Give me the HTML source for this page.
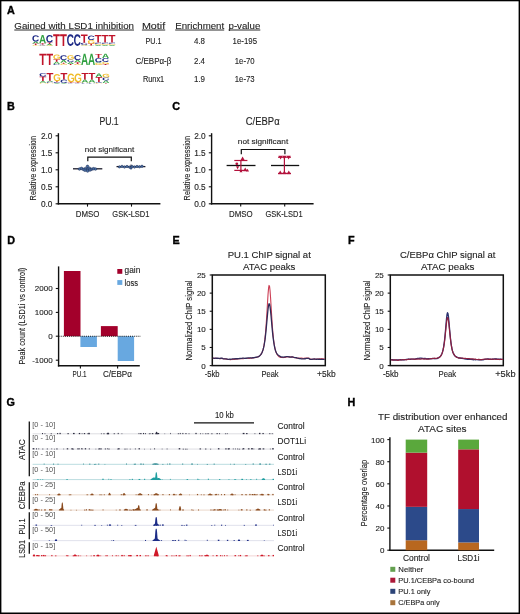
<!DOCTYPE html><html><head><meta charset="utf-8"><style>html,body{margin:0;padding:0;background:#fff;}svg{display:block;filter:blur(0.35px);}</style></head><body><svg width="520" height="614" viewBox="0 0 520 614" style="font-family:'Liberation Sans',sans-serif"><defs><path id="gA" d="M1133 0 1008 360H471L346 0H51L565 1409H913L1425 0ZM739 1192 733 1170Q723 1134 709.0 1088.0Q695 1042 537 582H942L803 987L760 1123Z"/><path id="gC" d="M795 212Q1062 212 1166 480L1423 383Q1340 179 1179.5 79.5Q1019 -20 795 -20Q455 -20 269.5 172.5Q84 365 84 711Q84 1058 263.0 1244.0Q442 1430 782 1430Q1030 1430 1186.0 1330.5Q1342 1231 1405 1038L1145 967Q1112 1073 1015.5 1135.5Q919 1198 788 1198Q588 1198 484.5 1074.0Q381 950 381 711Q381 468 487.5 340.0Q594 212 795 212Z"/><path id="gG" d="M806 211Q921 211 1029.0 244.5Q1137 278 1196 330V525H852V743H1466V225Q1354 110 1174.5 45.0Q995 -20 798 -20Q454 -20 269.0 170.5Q84 361 84 711Q84 1059 270.0 1244.5Q456 1430 805 1430Q1301 1430 1436 1063L1164 981Q1120 1088 1026.0 1143.0Q932 1198 805 1198Q597 1198 489.0 1072.0Q381 946 381 711Q381 472 492.5 341.5Q604 211 806 211Z"/><path id="gT" d="M773 1181V0H478V1181H23V1409H1229V1181Z"/></defs><rect x="0" y="0" width="520" height="614" fill="#000"/>
<rect x="1.4" y="1.3" width="517.2" height="611.2" fill="#fff"/>
<text x="7" y="14.3" font-size="10.8" fill="#000" font-weight="bold" stroke="#000" stroke-width="0.35">A</text>
<text x="14.3" y="28.8" font-size="9.87" fill="#1e1e1e" textLength="119.7" lengthAdjust="spacingAndGlyphs" stroke="#1e1e1e" stroke-width="0.12">Gained with LSD1 inhibition</text>
<line x1="14.3" y1="30" x2="134" y2="30" stroke="#2a2a2a" stroke-width="1"/>
<text x="141.9" y="28.8" font-size="9.87" fill="#1e1e1e" textLength="23.3" lengthAdjust="spacingAndGlyphs" stroke="#1e1e1e" stroke-width="0.12">Motif</text>
<line x1="141.9" y1="30" x2="165.2" y2="30" stroke="#2a2a2a" stroke-width="1"/>
<text x="175.2" y="28.8" font-size="9.87" fill="#1e1e1e" textLength="49" lengthAdjust="spacingAndGlyphs" stroke="#1e1e1e" stroke-width="0.12">Enrichment</text>
<line x1="175.2" y1="30" x2="224.2" y2="30" stroke="#2a2a2a" stroke-width="1"/>
<text x="228.5" y="28.8" font-size="9.87" fill="#1e1e1e" textLength="31.8" lengthAdjust="spacingAndGlyphs" stroke="#1e1e1e" stroke-width="0.12">p-value</text>
<line x1="228.5" y1="30" x2="260.3" y2="30" stroke="#2a2a2a" stroke-width="1"/>
<text x="145.4" y="43.8" font-size="8.61" fill="#1e1e1e" textLength="16.1" lengthAdjust="spacingAndGlyphs" stroke="#1e1e1e" stroke-width="0.12">PU.1</text>
<text x="194" y="43.8" font-size="8.61" fill="#1e1e1e" textLength="11" lengthAdjust="spacingAndGlyphs" stroke="#1e1e1e" stroke-width="0.12">4.8</text>
<text x="232.6" y="43.8" font-size="8.61" fill="#1e1e1e" textLength="24.4" lengthAdjust="spacingAndGlyphs" stroke="#1e1e1e" stroke-width="0.12">1e-195</text>
<text x="135.6" y="63.8" font-size="8.61" fill="#1e1e1e" textLength="35.7" lengthAdjust="spacingAndGlyphs" stroke="#1e1e1e" stroke-width="0.12">C/EBP&#945;-&#946;</text>
<text x="194" y="63.8" font-size="8.61" fill="#1e1e1e" textLength="11" lengthAdjust="spacingAndGlyphs" stroke="#1e1e1e" stroke-width="0.12">2.4</text>
<text x="234.8" y="63.8" font-size="8.61" fill="#1e1e1e" textLength="19.8" lengthAdjust="spacingAndGlyphs" stroke="#1e1e1e" stroke-width="0.12">1e-70</text>
<text x="143" y="81.8" font-size="8.61" fill="#1e1e1e" textLength="21.2" lengthAdjust="spacingAndGlyphs" stroke="#1e1e1e" stroke-width="0.12">Runx1</text>
<text x="194" y="81.8" font-size="8.61" fill="#1e1e1e" textLength="11" lengthAdjust="spacingAndGlyphs" stroke="#1e1e1e" stroke-width="0.12">1.9</text>
<text x="234.8" y="81.8" font-size="8.61" fill="#1e1e1e" textLength="19.8" lengthAdjust="spacingAndGlyphs" stroke="#1e1e1e" stroke-width="0.12">1e-73</text>
<use href="#gG" fill="#f0bc2a" stroke="#f0bc2a" stroke-width="0.55" vector-effect="non-scaling-stroke" transform="translate(32.35 45.9) scale(0.004805 -0.000552) translate(-84 20)"/>
<use href="#gT" fill="#c0142a" stroke="#c0142a" stroke-width="0.55" vector-effect="non-scaling-stroke" transform="translate(32.35 45.1) scale(0.005506 -0.001065) translate(-23 0)"/>
<use href="#gA" fill="#30a040" stroke="#30a040" stroke-width="0.55" vector-effect="non-scaling-stroke" transform="translate(32.35 43.6) scale(0.004833 -0.001419) translate(-51 0)"/>
<use href="#gC" fill="#1e2a86" stroke="#1e2a86" stroke-width="0.55" vector-effect="non-scaling-stroke" transform="translate(32.35 41.6) scale(0.004959 -0.004345) translate(-84 20)"/>
<use href="#gG" fill="#f0bc2a" stroke="#f0bc2a" stroke-width="0.55" vector-effect="non-scaling-stroke" transform="translate(39.29 45.9) scale(0.004805 -0.000345) translate(-84 20)"/>
<use href="#gC" fill="#1e2a86" stroke="#1e2a86" stroke-width="0.55" vector-effect="non-scaling-stroke" transform="translate(39.29 45.4) scale(0.004959 -0.000552) translate(-84 20)"/>
<use href="#gT" fill="#c0142a" stroke="#c0142a" stroke-width="0.55" vector-effect="non-scaling-stroke" transform="translate(39.29 44.6) scale(0.005506 -0.000923) translate(-23 0)"/>
<use href="#gA" fill="#30a040" stroke="#30a040" stroke-width="0.55" vector-effect="non-scaling-stroke" transform="translate(39.29 43.3) scale(0.004833 -0.005891) translate(-51 0)"/>
<use href="#gG" fill="#f0bc2a" stroke="#f0bc2a" stroke-width="0.55" vector-effect="non-scaling-stroke" transform="translate(46.23 45.9) scale(0.004805 -0.000414) translate(-84 20)"/>
<use href="#gA" fill="#30a040" stroke="#30a040" stroke-width="0.55" vector-effect="non-scaling-stroke" transform="translate(46.23 45.3) scale(0.004833 -0.000852) translate(-51 0)"/>
<use href="#gT" fill="#c0142a" stroke="#c0142a" stroke-width="0.55" vector-effect="non-scaling-stroke" transform="translate(46.23 44.1) scale(0.005506 -0.001136) translate(-23 0)"/>
<use href="#gC" fill="#1e2a86" stroke="#1e2a86" stroke-width="0.55" vector-effect="non-scaling-stroke" transform="translate(46.23 42.5) scale(0.004959 -0.005103) translate(-84 20)"/>
<use href="#gT" fill="#c0142a" stroke="#c0142a" stroke-width="0.55" vector-effect="non-scaling-stroke" transform="translate(53.17 45.9) scale(0.005506 -0.008233) translate(-23 0)"/>
<use href="#gT" fill="#c0142a" stroke="#c0142a" stroke-width="0.55" vector-effect="non-scaling-stroke" transform="translate(60.11 45.9) scale(0.005506 -0.008233) translate(-23 0)"/>
<use href="#gC" fill="#1e2a86" stroke="#1e2a86" stroke-width="0.55" vector-effect="non-scaling-stroke" transform="translate(67.05 45.9) scale(0.004959 -0.008000) translate(-84 20)"/>
<use href="#gC" fill="#1e2a86" stroke="#1e2a86" stroke-width="0.55" vector-effect="non-scaling-stroke" transform="translate(73.99 45.9) scale(0.004959 -0.008000) translate(-84 20)"/>
<use href="#gA" fill="#30a040" stroke="#30a040" stroke-width="0.55" vector-effect="non-scaling-stroke" transform="translate(80.93 45.9) scale(0.004833 -0.000355) translate(-51 0)"/>
<use href="#gG" fill="#f0bc2a" stroke="#f0bc2a" stroke-width="0.55" vector-effect="non-scaling-stroke" transform="translate(80.93 45.4) scale(0.004805 -0.000414) translate(-84 20)"/>
<use href="#gC" fill="#1e2a86" stroke="#1e2a86" stroke-width="0.55" vector-effect="non-scaling-stroke" transform="translate(80.93 44.8) scale(0.004959 -0.001379) translate(-84 20)"/>
<use href="#gT" fill="#c0142a" stroke="#c0142a" stroke-width="0.55" vector-effect="non-scaling-stroke" transform="translate(80.93 42.8) scale(0.005506 -0.005820) translate(-23 0)"/>
<use href="#gA" fill="#30a040" stroke="#30a040" stroke-width="0.55" vector-effect="non-scaling-stroke" transform="translate(87.87 45.9) scale(0.004833 -0.000355) translate(-51 0)"/>
<use href="#gT" fill="#c0142a" stroke="#c0142a" stroke-width="0.55" vector-effect="non-scaling-stroke" transform="translate(87.87 45.4) scale(0.005506 -0.001278) translate(-23 0)"/>
<use href="#gG" fill="#f0bc2a" stroke="#f0bc2a" stroke-width="0.55" vector-effect="non-scaling-stroke" transform="translate(87.87 43.6) scale(0.004805 -0.002483) translate(-84 20)"/>
<use href="#gC" fill="#1e2a86" stroke="#1e2a86" stroke-width="0.55" vector-effect="non-scaling-stroke" transform="translate(87.87 40) scale(0.004959 -0.003034) translate(-84 20)"/>
<use href="#gA" fill="#30a040" stroke="#30a040" stroke-width="0.55" vector-effect="non-scaling-stroke" transform="translate(94.81 45.9) scale(0.004833 -0.000710) translate(-51 0)"/>
<use href="#gG" fill="#f0bc2a" stroke="#f0bc2a" stroke-width="0.55" vector-effect="non-scaling-stroke" transform="translate(94.81 44.9) scale(0.004805 -0.000690) translate(-84 20)"/>
<use href="#gC" fill="#1e2a86" stroke="#1e2a86" stroke-width="0.55" vector-effect="non-scaling-stroke" transform="translate(94.81 43.9) scale(0.004959 -0.000966) translate(-84 20)"/>
<use href="#gT" fill="#c0142a" stroke="#c0142a" stroke-width="0.55" vector-effect="non-scaling-stroke" transform="translate(94.81 42.5) scale(0.005506 -0.005394) translate(-23 0)"/>
<use href="#gA" fill="#30a040" stroke="#30a040" stroke-width="0.55" vector-effect="non-scaling-stroke" transform="translate(101.75 45.9) scale(0.004833 -0.000710) translate(-51 0)"/>
<use href="#gG" fill="#f0bc2a" stroke="#f0bc2a" stroke-width="0.55" vector-effect="non-scaling-stroke" transform="translate(101.75 44.9) scale(0.004805 -0.000690) translate(-84 20)"/>
<use href="#gC" fill="#1e2a86" stroke="#1e2a86" stroke-width="0.55" vector-effect="non-scaling-stroke" transform="translate(101.75 43.9) scale(0.004959 -0.000966) translate(-84 20)"/>
<use href="#gT" fill="#c0142a" stroke="#c0142a" stroke-width="0.55" vector-effect="non-scaling-stroke" transform="translate(101.75 42.5) scale(0.005506 -0.005394) translate(-23 0)"/>
<use href="#gA" fill="#30a040" stroke="#30a040" stroke-width="0.55" vector-effect="non-scaling-stroke" transform="translate(108.69 45.9) scale(0.004833 -0.000710) translate(-51 0)"/>
<use href="#gG" fill="#f0bc2a" stroke="#f0bc2a" stroke-width="0.55" vector-effect="non-scaling-stroke" transform="translate(108.69 44.9) scale(0.004805 -0.000690) translate(-84 20)"/>
<use href="#gC" fill="#1e2a86" stroke="#1e2a86" stroke-width="0.55" vector-effect="non-scaling-stroke" transform="translate(108.69 43.9) scale(0.004959 -0.000966) translate(-84 20)"/>
<use href="#gT" fill="#c0142a" stroke="#c0142a" stroke-width="0.55" vector-effect="non-scaling-stroke" transform="translate(108.69 42.5) scale(0.005506 -0.005394) translate(-23 0)"/>
<use href="#gT" fill="#c0142a" stroke="#c0142a" stroke-width="0.55" vector-effect="non-scaling-stroke" transform="translate(39.35 64.9) scale(0.005539 -0.007878) translate(-23 0)"/>
<use href="#gT" fill="#c0142a" stroke="#c0142a" stroke-width="0.55" vector-effect="non-scaling-stroke" transform="translate(46.33 64.9) scale(0.005539 -0.007878) translate(-23 0)"/>
<use href="#gC" fill="#1e2a86" stroke="#1e2a86" stroke-width="0.55" vector-effect="non-scaling-stroke" transform="translate(53.31 64.9) scale(0.004989 -0.000690) translate(-84 20)"/>
<use href="#gA" fill="#30a040" stroke="#30a040" stroke-width="0.55" vector-effect="non-scaling-stroke" transform="translate(53.31 63.9) scale(0.004862 -0.001561) translate(-51 0)"/>
<use href="#gT" fill="#c0142a" stroke="#c0142a" stroke-width="0.55" vector-effect="non-scaling-stroke" transform="translate(53.31 61.7) scale(0.005539 -0.001703) translate(-23 0)"/>
<use href="#gG" fill="#f0bc2a" stroke="#f0bc2a" stroke-width="0.55" vector-effect="non-scaling-stroke" transform="translate(53.31 59.3) scale(0.004834 -0.003241) translate(-84 20)"/>
<use href="#gG" fill="#f0bc2a" stroke="#f0bc2a" stroke-width="0.55" vector-effect="non-scaling-stroke" transform="translate(60.29 64.9) scale(0.004834 -0.000828) translate(-84 20)"/>
<use href="#gT" fill="#c0142a" stroke="#c0142a" stroke-width="0.55" vector-effect="non-scaling-stroke" transform="translate(60.29 63.7) scale(0.005539 -0.000710) translate(-23 0)"/>
<use href="#gA" fill="#30a040" stroke="#30a040" stroke-width="0.55" vector-effect="non-scaling-stroke" transform="translate(60.29 62.7) scale(0.004862 -0.001845) translate(-51 0)"/>
<use href="#gC" fill="#1e2a86" stroke="#1e2a86" stroke-width="0.55" vector-effect="non-scaling-stroke" transform="translate(60.29 60.1) scale(0.004989 -0.003379) translate(-84 20)"/>
<use href="#gT" fill="#c0142a" stroke="#c0142a" stroke-width="0.55" vector-effect="non-scaling-stroke" transform="translate(67.27 64.9) scale(0.005539 -0.000710) translate(-23 0)"/>
<use href="#gA" fill="#30a040" stroke="#30a040" stroke-width="0.55" vector-effect="non-scaling-stroke" transform="translate(67.27 63.9) scale(0.004862 -0.001419) translate(-51 0)"/>
<use href="#gC" fill="#1e2a86" stroke="#1e2a86" stroke-width="0.55" vector-effect="non-scaling-stroke" transform="translate(67.27 61.9) scale(0.004989 -0.001655) translate(-84 20)"/>
<use href="#gG" fill="#f0bc2a" stroke="#f0bc2a" stroke-width="0.55" vector-effect="non-scaling-stroke" transform="translate(67.27 59.5) scale(0.004834 -0.002897) translate(-84 20)"/>
<use href="#gG" fill="#f0bc2a" stroke="#f0bc2a" stroke-width="0.55" vector-effect="non-scaling-stroke" transform="translate(74.25 64.9) scale(0.004834 -0.000690) translate(-84 20)"/>
<use href="#gT" fill="#c0142a" stroke="#c0142a" stroke-width="0.55" vector-effect="non-scaling-stroke" transform="translate(74.25 63.9) scale(0.005539 -0.001136) translate(-23 0)"/>
<use href="#gA" fill="#30a040" stroke="#30a040" stroke-width="0.55" vector-effect="non-scaling-stroke" transform="translate(74.25 62.3) scale(0.004862 -0.001561) translate(-51 0)"/>
<use href="#gC" fill="#1e2a86" stroke="#1e2a86" stroke-width="0.55" vector-effect="non-scaling-stroke" transform="translate(74.25 60.1) scale(0.004989 -0.003448) translate(-84 20)"/>
<use href="#gA" fill="#30a040" stroke="#30a040" stroke-width="0.55" vector-effect="non-scaling-stroke" transform="translate(81.23 64.9) scale(0.004862 -0.007949) translate(-51 0)"/>
<use href="#gA" fill="#30a040" stroke="#30a040" stroke-width="0.55" vector-effect="non-scaling-stroke" transform="translate(88.21 64.9) scale(0.004862 -0.007949) translate(-51 0)"/>
<use href="#gG" fill="#f0bc2a" stroke="#f0bc2a" stroke-width="0.55" vector-effect="non-scaling-stroke" transform="translate(95.19 64.9) scale(0.004834 -0.001379) translate(-84 20)"/>
<use href="#gA" fill="#30a040" stroke="#30a040" stroke-width="0.55" vector-effect="non-scaling-stroke" transform="translate(95.19 62.9) scale(0.004862 -0.000426) translate(-51 0)"/>
<use href="#gC" fill="#1e2a86" stroke="#1e2a86" stroke-width="0.55" vector-effect="non-scaling-stroke" transform="translate(95.19 62.3) scale(0.004989 -0.003034) translate(-84 20)"/>
<use href="#gT" fill="#c0142a" stroke="#c0142a" stroke-width="0.55" vector-effect="non-scaling-stroke" transform="translate(95.19 57.9) scale(0.005539 -0.002839) translate(-23 0)"/>
<use href="#gT" fill="#c0142a" stroke="#c0142a" stroke-width="0.55" vector-effect="non-scaling-stroke" transform="translate(102.17 64.9) scale(0.005539 -0.000568) translate(-23 0)"/>
<use href="#gG" fill="#f0bc2a" stroke="#f0bc2a" stroke-width="0.55" vector-effect="non-scaling-stroke" transform="translate(102.17 64.1) scale(0.004834 -0.001517) translate(-84 20)"/>
<use href="#gC" fill="#1e2a86" stroke="#1e2a86" stroke-width="0.55" vector-effect="non-scaling-stroke" transform="translate(102.17 61.9) scale(0.004989 -0.002759) translate(-84 20)"/>
<use href="#gA" fill="#30a040" stroke="#30a040" stroke-width="0.55" vector-effect="non-scaling-stroke" transform="translate(102.17 57.9) scale(0.004862 -0.002981) translate(-51 0)"/>
<use href="#gG" fill="#f0bc2a" stroke="#f0bc2a" stroke-width="0.55" vector-effect="non-scaling-stroke" transform="translate(39.55 83.6) scale(0.004848 -0.000552) translate(-84 20)"/>
<use href="#gA" fill="#30a040" stroke="#30a040" stroke-width="0.55" vector-effect="non-scaling-stroke" transform="translate(39.55 82.8) scale(0.004876 -0.001278) translate(-51 0)"/>
<use href="#gT" fill="#c0142a" stroke="#c0142a" stroke-width="0.55" vector-effect="non-scaling-stroke" transform="translate(39.55 81) scale(0.005556 -0.003265) translate(-23 0)"/>
<use href="#gC" fill="#1e2a86" stroke="#1e2a86" stroke-width="0.55" vector-effect="non-scaling-stroke" transform="translate(39.55 76.4) scale(0.005004 -0.002207) translate(-84 20)"/>
<use href="#gG" fill="#f0bc2a" stroke="#f0bc2a" stroke-width="0.55" vector-effect="non-scaling-stroke" transform="translate(46.55 83.6) scale(0.004848 -0.000552) translate(-84 20)"/>
<use href="#gC" fill="#1e2a86" stroke="#1e2a86" stroke-width="0.55" vector-effect="non-scaling-stroke" transform="translate(46.55 82.8) scale(0.005004 -0.000690) translate(-84 20)"/>
<use href="#gA" fill="#30a040" stroke="#30a040" stroke-width="0.55" vector-effect="non-scaling-stroke" transform="translate(46.55 81.8) scale(0.004876 -0.000710) translate(-51 0)"/>
<use href="#gT" fill="#c0142a" stroke="#c0142a" stroke-width="0.55" vector-effect="non-scaling-stroke" transform="translate(46.55 80.8) scale(0.005556 -0.005465) translate(-23 0)"/>
<use href="#gA" fill="#30a040" stroke="#30a040" stroke-width="0.55" vector-effect="non-scaling-stroke" transform="translate(53.55 83.6) scale(0.004876 -0.000426) translate(-51 0)"/>
<use href="#gC" fill="#1e2a86" stroke="#1e2a86" stroke-width="0.55" vector-effect="non-scaling-stroke" transform="translate(53.55 83) scale(0.005004 -0.000552) translate(-84 20)"/>
<use href="#gT" fill="#c0142a" stroke="#c0142a" stroke-width="0.55" vector-effect="non-scaling-stroke" transform="translate(53.55 82.2) scale(0.005556 -0.000710) translate(-23 0)"/>
<use href="#gG" fill="#f0bc2a" stroke="#f0bc2a" stroke-width="0.55" vector-effect="non-scaling-stroke" transform="translate(53.55 81.2) scale(0.004848 -0.004966) translate(-84 20)"/>
<use href="#gA" fill="#30a040" stroke="#30a040" stroke-width="0.55" vector-effect="non-scaling-stroke" transform="translate(60.55 83.6) scale(0.004876 -0.000426) translate(-51 0)"/>
<use href="#gC" fill="#1e2a86" stroke="#1e2a86" stroke-width="0.55" vector-effect="non-scaling-stroke" transform="translate(60.55 83) scale(0.005004 -0.002345) translate(-84 20)"/>
<use href="#gT" fill="#c0142a" stroke="#c0142a" stroke-width="0.55" vector-effect="non-scaling-stroke" transform="translate(60.55 79.6) scale(0.005556 -0.004613) translate(-23 0)"/>
<use href="#gC" fill="#1e2a86" stroke="#1e2a86" stroke-width="0.55" vector-effect="non-scaling-stroke" transform="translate(67.55 83.6) scale(0.005004 -0.000345) translate(-84 20)"/>
<use href="#gT" fill="#c0142a" stroke="#c0142a" stroke-width="0.55" vector-effect="non-scaling-stroke" transform="translate(67.55 83.1) scale(0.005556 -0.000568) translate(-23 0)"/>
<use href="#gG" fill="#f0bc2a" stroke="#f0bc2a" stroke-width="0.55" vector-effect="non-scaling-stroke" transform="translate(67.55 82.3) scale(0.004848 -0.006069) translate(-84 20)"/>
<use href="#gC" fill="#1e2a86" stroke="#1e2a86" stroke-width="0.55" vector-effect="non-scaling-stroke" transform="translate(74.55 83.6) scale(0.005004 -0.000345) translate(-84 20)"/>
<use href="#gT" fill="#c0142a" stroke="#c0142a" stroke-width="0.55" vector-effect="non-scaling-stroke" transform="translate(74.55 83.1) scale(0.005556 -0.000568) translate(-23 0)"/>
<use href="#gG" fill="#f0bc2a" stroke="#f0bc2a" stroke-width="0.55" vector-effect="non-scaling-stroke" transform="translate(74.55 82.3) scale(0.004848 -0.006069) translate(-84 20)"/>
<use href="#gC" fill="#1e2a86" stroke="#1e2a86" stroke-width="0.55" vector-effect="non-scaling-stroke" transform="translate(81.55 83.6) scale(0.005004 -0.000414) translate(-84 20)"/>
<use href="#gG" fill="#f0bc2a" stroke="#f0bc2a" stroke-width="0.55" vector-effect="non-scaling-stroke" transform="translate(81.55 83) scale(0.004848 -0.000345) translate(-84 20)"/>
<use href="#gA" fill="#30a040" stroke="#30a040" stroke-width="0.55" vector-effect="non-scaling-stroke" transform="translate(81.55 82.5) scale(0.004876 -0.002129) translate(-51 0)"/>
<use href="#gT" fill="#c0142a" stroke="#c0142a" stroke-width="0.55" vector-effect="non-scaling-stroke" transform="translate(81.55 79.5) scale(0.005556 -0.004613) translate(-23 0)"/>
<use href="#gC" fill="#1e2a86" stroke="#1e2a86" stroke-width="0.55" vector-effect="non-scaling-stroke" transform="translate(88.55 83.6) scale(0.005004 -0.000414) translate(-84 20)"/>
<use href="#gG" fill="#f0bc2a" stroke="#f0bc2a" stroke-width="0.55" vector-effect="non-scaling-stroke" transform="translate(88.55 83) scale(0.004848 -0.000345) translate(-84 20)"/>
<use href="#gA" fill="#30a040" stroke="#30a040" stroke-width="0.55" vector-effect="non-scaling-stroke" transform="translate(88.55 82.5) scale(0.004876 -0.002129) translate(-51 0)"/>
<use href="#gT" fill="#c0142a" stroke="#c0142a" stroke-width="0.55" vector-effect="non-scaling-stroke" transform="translate(88.55 79.5) scale(0.005556 -0.004613) translate(-23 0)"/>
<use href="#gG" fill="#f0bc2a" stroke="#f0bc2a" stroke-width="0.55" vector-effect="non-scaling-stroke" transform="translate(95.55 83.6) scale(0.004848 -0.000414) translate(-84 20)"/>
<use href="#gC" fill="#1e2a86" stroke="#1e2a86" stroke-width="0.55" vector-effect="non-scaling-stroke" transform="translate(95.55 83) scale(0.005004 -0.000690) translate(-84 20)"/>
<use href="#gT" fill="#c0142a" stroke="#c0142a" stroke-width="0.55" vector-effect="non-scaling-stroke" transform="translate(95.55 82) scale(0.005556 -0.003549) translate(-23 0)"/>
<use href="#gA" fill="#30a040" stroke="#30a040" stroke-width="0.55" vector-effect="non-scaling-stroke" transform="translate(95.55 77) scale(0.004876 -0.002555) translate(-51 0)"/>
<use href="#gT" fill="#c0142a" stroke="#c0142a" stroke-width="0.55" vector-effect="non-scaling-stroke" transform="translate(102.55 83.6) scale(0.005556 -0.000426) translate(-23 0)"/>
<use href="#gA" fill="#30a040" stroke="#30a040" stroke-width="0.55" vector-effect="non-scaling-stroke" transform="translate(102.55 83) scale(0.004876 -0.001845) translate(-51 0)"/>
<use href="#gC" fill="#1e2a86" stroke="#1e2a86" stroke-width="0.55" vector-effect="non-scaling-stroke" transform="translate(102.55 80.4) scale(0.005004 -0.002069) translate(-84 20)"/>
<use href="#gG" fill="#f0bc2a" stroke="#f0bc2a" stroke-width="0.55" vector-effect="non-scaling-stroke" transform="translate(102.55 77.4) scale(0.004848 -0.002483) translate(-84 20)"/>
<text x="6.9" y="109.9" font-size="10.8" fill="#000" font-weight="bold" stroke="#000" stroke-width="0.35">B</text>
<line x1="58.4" y1="133.2" x2="58.4" y2="204.5" stroke="#111" stroke-width="1.4"/>
<line x1="55.6" y1="203.8" x2="58.4" y2="203.8" stroke="#111" stroke-width="1.1"/>
<text x="52.5" y="206.7" font-size="8.3" fill="#1e1e1e" text-anchor="end" stroke="#1e1e1e" stroke-width="0.12">0.0</text>
<line x1="55.6" y1="186.8" x2="58.4" y2="186.8" stroke="#111" stroke-width="1.1"/>
<text x="52.5" y="189.7" font-size="8.3" fill="#1e1e1e" text-anchor="end" stroke="#1e1e1e" stroke-width="0.12">0.5</text>
<line x1="55.6" y1="169.8" x2="58.4" y2="169.8" stroke="#111" stroke-width="1.1"/>
<text x="52.5" y="172.7" font-size="8.3" fill="#1e1e1e" text-anchor="end" stroke="#1e1e1e" stroke-width="0.12">1.0</text>
<line x1="55.6" y1="152.8" x2="58.4" y2="152.8" stroke="#111" stroke-width="1.1"/>
<text x="52.5" y="155.7" font-size="8.3" fill="#1e1e1e" text-anchor="end" stroke="#1e1e1e" stroke-width="0.12">1.5</text>
<line x1="55.6" y1="135.8" x2="58.4" y2="135.8" stroke="#111" stroke-width="1.1"/>
<text x="52.5" y="138.7" font-size="8.3" fill="#1e1e1e" text-anchor="end" stroke="#1e1e1e" stroke-width="0.12">2.0</text>
<line x1="57.7" y1="203.8" x2="160.4" y2="203.8" stroke="#111" stroke-width="1.5"/>
<line x1="87.5" y1="203.8" x2="87.5" y2="206.6" stroke="#111" stroke-width="1.1"/>
<line x1="131.5" y1="203.8" x2="131.5" y2="206.6" stroke="#111" stroke-width="1.1"/>
<text x="75.8" y="217.2" font-size="8.4" fill="#1e1e1e" textLength="23.6" lengthAdjust="spacingAndGlyphs" stroke="#1e1e1e" stroke-width="0.12">DMSO</text>
<text x="112.3" y="217.2" font-size="8.4" fill="#1e1e1e" textLength="37.1" lengthAdjust="spacingAndGlyphs" stroke="#1e1e1e" stroke-width="0.12">GSK-LSD1</text>
<text x="36.4" y="200.4" font-size="8.72" fill="#1e1e1e" textLength="64.4" lengthAdjust="spacingAndGlyphs" transform="rotate(-90 36.4 200.4)" stroke="#1e1e1e" stroke-width="0.12">Relative expression</text>
<text x="99.4" y="125.2" font-size="10.29" fill="#1e1e1e" textLength="19.3" lengthAdjust="spacingAndGlyphs" stroke="#1e1e1e" stroke-width="0.12">PU.1</text>
<text x="84.8" y="151.5" font-size="7.98" fill="#1e1e1e" textLength="49.4" lengthAdjust="spacingAndGlyphs" stroke="#1e1e1e" stroke-width="0.12">not significant</text>
<path d="M87.8 161.3 V157.1 H131.3 V161.3" fill="none" stroke="#111" stroke-width="1.2"/>
<line x1="73" y1="168.8" x2="102.3" y2="168.8" stroke="#1a1a2a" stroke-width="1.3"/>
<line x1="116.5" y1="166.6" x2="145.4" y2="166.6" stroke="#1a1a2a" stroke-width="1.3"/>
<line x1="87.5" y1="165" x2="87.5" y2="172" stroke="#1a1a2a" stroke-width="1"/>
<line x1="131" y1="164.6" x2="131" y2="168.8" stroke="#1a1a2a" stroke-width="1"/>
<circle cx="79.5" cy="169" r="1.35" fill="#4a6fa5" stroke="#1f2f55" stroke-width="0.5"/>
<circle cx="81.5" cy="168.4" r="1.35" fill="#4a6fa5" stroke="#1f2f55" stroke-width="0.5"/>
<circle cx="83.5" cy="169.4" r="1.35" fill="#4a6fa5" stroke="#1f2f55" stroke-width="0.5"/>
<circle cx="85.5" cy="168.6" r="1.35" fill="#4a6fa5" stroke="#1f2f55" stroke-width="0.5"/>
<circle cx="87.5" cy="169.2" r="1.35" fill="#4a6fa5" stroke="#1f2f55" stroke-width="0.5"/>
<circle cx="89.5" cy="168.3" r="1.35" fill="#4a6fa5" stroke="#1f2f55" stroke-width="0.5"/>
<circle cx="91.5" cy="169.3" r="1.35" fill="#4a6fa5" stroke="#1f2f55" stroke-width="0.5"/>
<circle cx="93.5" cy="168.7" r="1.35" fill="#4a6fa5" stroke="#1f2f55" stroke-width="0.5"/>
<circle cx="95.5" cy="169" r="1.35" fill="#4a6fa5" stroke="#1f2f55" stroke-width="0.5"/>
<circle cx="87.5" cy="166.4" r="1.35" fill="#4a6fa5" stroke="#1f2f55" stroke-width="0.5"/>
<circle cx="87.6" cy="171" r="1.35" fill="#4a6fa5" stroke="#1f2f55" stroke-width="0.5"/>
<circle cx="85" cy="170.2" r="1.35" fill="#4a6fa5" stroke="#1f2f55" stroke-width="0.5"/>
<circle cx="90" cy="170" r="1.35" fill="#4a6fa5" stroke="#1f2f55" stroke-width="0.5"/>
<circle cx="119.5" cy="166.9" r="1.2" fill="#4a6fa5" stroke="#1f2f55" stroke-width="0.5"/>
<circle cx="122" cy="166.4" r="1.2" fill="#4a6fa5" stroke="#1f2f55" stroke-width="0.5"/>
<circle cx="124.5" cy="167" r="1.2" fill="#4a6fa5" stroke="#1f2f55" stroke-width="0.5"/>
<circle cx="127" cy="166.5" r="1.2" fill="#4a6fa5" stroke="#1f2f55" stroke-width="0.5"/>
<circle cx="129.5" cy="167.1" r="1.2" fill="#4a6fa5" stroke="#1f2f55" stroke-width="0.5"/>
<circle cx="132" cy="166.4" r="1.2" fill="#4a6fa5" stroke="#1f2f55" stroke-width="0.5"/>
<circle cx="134.5" cy="167" r="1.2" fill="#4a6fa5" stroke="#1f2f55" stroke-width="0.5"/>
<circle cx="137" cy="166.5" r="1.2" fill="#4a6fa5" stroke="#1f2f55" stroke-width="0.5"/>
<circle cx="139.5" cy="166.8" r="1.2" fill="#4a6fa5" stroke="#1f2f55" stroke-width="0.5"/>
<circle cx="142" cy="166.3" r="1.2" fill="#4a6fa5" stroke="#1f2f55" stroke-width="0.5"/>
<circle cx="131" cy="168" r="1.2" fill="#4a6fa5" stroke="#1f2f55" stroke-width="0.5"/>
<text x="172.2" y="110.2" font-size="10.8" fill="#000" font-weight="bold" stroke="#000" stroke-width="0.35">C</text>
<line x1="211.6" y1="133.2" x2="211.6" y2="204.5" stroke="#111" stroke-width="1.4"/>
<line x1="208.8" y1="203.8" x2="211.6" y2="203.8" stroke="#111" stroke-width="1.1"/>
<text x="205.7" y="206.7" font-size="8.3" fill="#1e1e1e" text-anchor="end" stroke="#1e1e1e" stroke-width="0.12">0.0</text>
<line x1="208.8" y1="186.8" x2="211.6" y2="186.8" stroke="#111" stroke-width="1.1"/>
<text x="205.7" y="189.7" font-size="8.3" fill="#1e1e1e" text-anchor="end" stroke="#1e1e1e" stroke-width="0.12">0.5</text>
<line x1="208.8" y1="169.8" x2="211.6" y2="169.8" stroke="#111" stroke-width="1.1"/>
<text x="205.7" y="172.7" font-size="8.3" fill="#1e1e1e" text-anchor="end" stroke="#1e1e1e" stroke-width="0.12">1.0</text>
<line x1="208.8" y1="152.8" x2="211.6" y2="152.8" stroke="#111" stroke-width="1.1"/>
<text x="205.7" y="155.7" font-size="8.3" fill="#1e1e1e" text-anchor="end" stroke="#1e1e1e" stroke-width="0.12">1.5</text>
<line x1="208.8" y1="135.8" x2="211.6" y2="135.8" stroke="#111" stroke-width="1.1"/>
<text x="205.7" y="138.7" font-size="8.3" fill="#1e1e1e" text-anchor="end" stroke="#1e1e1e" stroke-width="0.12">2.0</text>
<line x1="210.9" y1="203.8" x2="313.6" y2="203.8" stroke="#111" stroke-width="1.5"/>
<line x1="240.7" y1="203.8" x2="240.7" y2="206.6" stroke="#111" stroke-width="1.1"/>
<line x1="284.7" y1="203.8" x2="284.7" y2="206.6" stroke="#111" stroke-width="1.1"/>
<text x="229" y="217.2" font-size="8.4" fill="#1e1e1e" textLength="23.6" lengthAdjust="spacingAndGlyphs" stroke="#1e1e1e" stroke-width="0.12">DMSO</text>
<text x="265.5" y="217.2" font-size="8.4" fill="#1e1e1e" textLength="37.1" lengthAdjust="spacingAndGlyphs" stroke="#1e1e1e" stroke-width="0.12">GSK-LSD1</text>
<text x="189.6" y="200.4" font-size="8.72" fill="#1e1e1e" textLength="64.4" lengthAdjust="spacingAndGlyphs" transform="rotate(-90 189.6 200.4)" stroke="#1e1e1e" stroke-width="0.12">Relative expression</text>
<text x="245.8" y="125.2" font-size="10.29" fill="#1e1e1e" textLength="33.8" lengthAdjust="spacingAndGlyphs" stroke="#1e1e1e" stroke-width="0.12">C/EBP&#945;</text>
<text x="237.8" y="144.1" font-size="7.98" fill="#1e1e1e" textLength="50.4" lengthAdjust="spacingAndGlyphs" stroke="#1e1e1e" stroke-width="0.12">not significant</text>
<path d="M241.3 154.2 V149.5 H284.9 V154.2" fill="none" stroke="#111" stroke-width="1.2"/>
<line x1="226.6" y1="165.5" x2="255.5" y2="165.5" stroke="#111" stroke-width="1.3"/>
<line x1="271" y1="165.5" x2="299.2" y2="165.5" stroke="#111" stroke-width="1.3"/>
<line x1="240.9" y1="160.5" x2="240.9" y2="170.6" stroke="#b3123c" stroke-width="1.2"/>
<line x1="234.3" y1="160.5" x2="247.4" y2="160.5" stroke="#b3123c" stroke-width="1.2"/>
<line x1="234.3" y1="170.4" x2="247.4" y2="170.4" stroke="#b3123c" stroke-width="1.2"/>
<line x1="284.4" y1="157" x2="284.4" y2="173.6" stroke="#b3123c" stroke-width="1.2"/>
<line x1="278" y1="157.2" x2="291" y2="157.2" stroke="#b3123c" stroke-width="1.2"/>
<line x1="278" y1="173.4" x2="291" y2="173.4" stroke="#b3123c" stroke-width="1.2"/>
<path d="M242.6 156.5 L244.7 160.28 L240.5 160.28 Z" fill="#b3123c"/>
<circle cx="236.8" cy="163.8" r="1.4" fill="#b3123c"/>
<path d="M237.6 169.2 L239.2 166.32 L236 166.32 Z" fill="#b3123c"/>
<path d="M245.2 167.5 L247.3 171.28 L243.1 171.28 Z" fill="#b3123c"/>
<path d="M241 169.4 L242.6 172.28 L239.4 172.28 Z" fill="#b3123c"/>
<path d="M247.5 168.7 L249 171.4 L246 171.4 Z" fill="#b3123c"/>
<path d="M280.6 159.5 L282.7 155.72 L278.5 155.72 Z" fill="#b3123c"/>
<path d="M284.4 159.5 L286.5 155.72 L282.3 155.72 Z" fill="#b3123c"/>
<path d="M288.6 159.5 L290.7 155.72 L286.5 155.72 Z" fill="#b3123c"/>
<path d="M280.2 170.5 L282.3 174.28 L278.1 174.28 Z" fill="#b3123c"/>
<path d="M284.4 170.5 L286.5 174.28 L282.3 174.28 Z" fill="#b3123c"/>
<path d="M288.8 170.5 L290.9 174.28 L286.7 174.28 Z" fill="#b3123c"/>
<text x="7.2" y="244.2" font-size="10.8" fill="#000" font-weight="bold" stroke="#000" stroke-width="0.35">D</text>
<line x1="58.6" y1="266.4" x2="58.6" y2="366.5" stroke="#111" stroke-width="1.4"/>
<line x1="57.9" y1="365.8" x2="139.8" y2="365.8" stroke="#111" stroke-width="1.5"/>
<line x1="55.8" y1="288.5" x2="58.6" y2="288.5" stroke="#111" stroke-width="1.1"/>
<text x="52.6" y="291.4" font-size="8" fill="#1e1e1e" text-anchor="end" stroke="#1e1e1e" stroke-width="0.12">2000</text>
<line x1="55.8" y1="312.4" x2="58.6" y2="312.4" stroke="#111" stroke-width="1.1"/>
<text x="52.6" y="315.3" font-size="8" fill="#1e1e1e" text-anchor="end" stroke="#1e1e1e" stroke-width="0.12">1000</text>
<line x1="55.8" y1="336.2" x2="58.6" y2="336.2" stroke="#111" stroke-width="1.1"/>
<text x="52.6" y="339.1" font-size="8" fill="#1e1e1e" text-anchor="end" stroke="#1e1e1e" stroke-width="0.12">0</text>
<line x1="55.8" y1="360.2" x2="58.6" y2="360.2" stroke="#111" stroke-width="1.1"/>
<text x="52.6" y="363.1" font-size="8" fill="#1e1e1e" text-anchor="end" stroke="#1e1e1e" stroke-width="0.12">-1000</text>
<rect x="63.9" y="271" width="16.6" height="65.2" fill="#a3002b"/>
<rect x="80.4" y="336.2" width="16.5" height="10.8" fill="#68a8e0"/>
<rect x="100.9" y="326.1" width="16.8" height="10.1" fill="#a3002b"/>
<rect x="117.7" y="336.2" width="16.4" height="24.8" fill="#68a8e0"/>
<line x1="58.6" y1="336.2" x2="140.8" y2="336.2" stroke="#111" stroke-width="1.1" stroke-dasharray="1 1.1"/>
<line x1="80.4" y1="365.8" x2="80.4" y2="368.6" stroke="#111" stroke-width="1.1"/>
<line x1="117.6" y1="365.8" x2="117.6" y2="368.6" stroke="#111" stroke-width="1.1"/>
<text x="72.6" y="377.4" font-size="8.61" fill="#1e1e1e" textLength="14" lengthAdjust="spacingAndGlyphs" stroke="#1e1e1e" stroke-width="0.12">PU.1</text>
<text x="103" y="377.4" font-size="8.61" fill="#1e1e1e" textLength="28.9" lengthAdjust="spacingAndGlyphs" stroke="#1e1e1e" stroke-width="0.12">C/EBP&#945;</text>
<rect x="117.3" y="269" width="5" height="4.8" fill="#a3002b"/>
<rect x="117.3" y="280.1" width="5" height="4.8" fill="#68a8e0"/>
<text x="124.6" y="273.4" font-size="8.4" fill="#1e1e1e" textLength="15.7" lengthAdjust="spacingAndGlyphs" stroke="#1e1e1e" stroke-width="0.12">gain</text>
<text x="124.6" y="285.6" font-size="8.4" fill="#1e1e1e" textLength="13.4" lengthAdjust="spacingAndGlyphs" stroke="#1e1e1e" stroke-width="0.12">loss</text>
<text x="25.4" y="364.5" font-size="9.03" fill="#1e1e1e" textLength="96.7" lengthAdjust="spacingAndGlyphs" transform="rotate(-90 25.4 364.5)" stroke="#1e1e1e" stroke-width="0.12">Peak count (LSD1i vs control)</text>
<text x="172.5" y="244.2" font-size="10.8" fill="#000" font-weight="bold" stroke="#000" stroke-width="0.35">E</text>
<rect x="212.3" y="275" width="113" height="90.6" fill="none" stroke="#111" stroke-width="1.5"/>
<line x1="209.7" y1="365.6" x2="212.3" y2="365.6" stroke="#111" stroke-width="1.1"/>
<text x="205.8" y="368.5" font-size="8" fill="#1e1e1e" text-anchor="end" stroke="#1e1e1e" stroke-width="0.12">0</text>
<line x1="209.7" y1="347.48" x2="212.3" y2="347.48" stroke="#111" stroke-width="1.1"/>
<text x="205.8" y="350.38" font-size="8" fill="#1e1e1e" text-anchor="end" stroke="#1e1e1e" stroke-width="0.12">5</text>
<line x1="209.7" y1="329.36" x2="212.3" y2="329.36" stroke="#111" stroke-width="1.1"/>
<text x="205.8" y="332.26" font-size="8" fill="#1e1e1e" text-anchor="end" stroke="#1e1e1e" stroke-width="0.12">10</text>
<line x1="209.7" y1="311.24" x2="212.3" y2="311.24" stroke="#111" stroke-width="1.1"/>
<text x="205.8" y="314.14" font-size="8" fill="#1e1e1e" text-anchor="end" stroke="#1e1e1e" stroke-width="0.12">15</text>
<line x1="209.7" y1="293.12" x2="212.3" y2="293.12" stroke="#111" stroke-width="1.1"/>
<text x="205.8" y="296.02" font-size="8" fill="#1e1e1e" text-anchor="end" stroke="#1e1e1e" stroke-width="0.12">20</text>
<line x1="209.7" y1="275" x2="212.3" y2="275" stroke="#111" stroke-width="1.1"/>
<text x="205.8" y="277.9" font-size="8" fill="#1e1e1e" text-anchor="end" stroke="#1e1e1e" stroke-width="0.12">25</text>
<text x="227.7" y="257.8" font-size="9.66" fill="#1e1e1e" textLength="83.1" lengthAdjust="spacingAndGlyphs" stroke="#1e1e1e" stroke-width="0.12">PU.1 ChIP signal at</text>
<text x="243" y="270.2" font-size="9.66" fill="#1e1e1e" textLength="52.4" lengthAdjust="spacingAndGlyphs" stroke="#1e1e1e" stroke-width="0.12">ATAC peaks</text>
<text x="191.6" y="360.6" font-size="9.03" fill="#1e1e1e" textLength="80" lengthAdjust="spacingAndGlyphs" transform="rotate(-90 191.6 360.6)" stroke="#1e1e1e" stroke-width="0.12">Normalized ChIP signal</text>
<text x="204.7" y="376.6" font-size="8.4" fill="#1e1e1e" textLength="14.9" lengthAdjust="spacingAndGlyphs" stroke="#1e1e1e" stroke-width="0.12">-5kb</text>
<text x="261.5" y="376.6" font-size="8.4" fill="#1e1e1e" textLength="17.1" lengthAdjust="spacingAndGlyphs" stroke="#1e1e1e" stroke-width="0.12">Peak</text>
<text x="317" y="376.6" font-size="8.4" fill="#1e1e1e" textLength="18.6" lengthAdjust="spacingAndGlyphs" stroke="#1e1e1e" stroke-width="0.12">+5kb</text>
<polyline points="212.9,358.49 213.4,358.35 213.9,358.26 214.4,358.36 214.91,358.37 215.41,358.39 215.91,358.34 216.41,358.25 216.91,358.42 217.41,358.59 217.91,358.46 218.41,358.49 218.92,358.4 219.42,358.6 219.92,358.62 220.42,358.54 220.92,358.65 221.42,358.5 221.92,358.38 222.43,358.59 222.93,358.79 223.43,358.79 223.93,358.64 224.43,358.72 224.93,358.85 225.43,358.91 225.93,359.1 226.44,359.21 226.94,359.23 227.44,359.24 227.94,359.34 228.44,359.44 228.94,359.53 229.44,359.53 229.95,359.59 230.45,359.75 230.95,359.59 231.45,359.55 231.95,359.48 232.45,359.58 232.95,359.38 233.46,359.24 233.96,359.38 234.46,359.43 234.96,359.32 235.46,359.23 235.96,359.06 236.46,359.08 236.96,358.95 237.47,358.88 237.97,358.95 238.47,358.9 238.97,358.74 239.47,358.61 239.97,358.61 240.47,358.57 240.98,358.73 241.48,358.8 241.98,358.65 242.48,358.66 242.98,358.75 243.48,358.68 243.98,358.57 244.48,358.48 244.99,358.5 245.49,358.49 245.99,358.45 246.49,358.32 246.99,358.3 247.49,358.32 247.99,358.3 248.5,358.45 249,358.57 249.5,358.44 250,358.22 250.5,358.16 251,358.17 251.5,358.26 252,358.21 252.51,357.99 253.01,357.86 253.51,357.81 254.01,357.64 254.51,357.71 255.01,357.65 255.51,357.42 256.02,357.33 256.52,357.26 257.02,357.24 257.52,357.08 258.02,356.74 258.52,356.72 259.02,356.36 259.53,355.92 260.03,355.4 260.53,354.84 261.03,354.14 261.53,353.4 262.03,352.43 262.53,351.24 263.03,349.85 263.54,347.7 264.04,345.11 264.54,341.95 265.04,337.81 265.54,332.65 266.04,326.4 266.54,319.04 267.05,310.72 267.55,302.09 268.05,294.15 268.55,288.18 269.05,285.43 269.55,286.28 270.05,290.66 270.55,297.51 271.06,305.68 271.56,314.13 272.06,322.02 272.56,328.91 273.06,334.86 273.56,339.5 274.06,343.25 274.57,346.41 275.07,348.95 275.57,350.95 276.07,352.28 276.57,353.49 277.07,354.51 277.57,355.14 278.07,355.73 278.58,356.3 279.08,356.74 279.58,356.95 280.08,357.24 280.58,357.43 281.08,357.41 281.58,357.46 282.09,357.52 282.59,357.5 283.09,357.62 283.59,357.57 284.09,357.49 284.59,357.48 285.09,357.48 285.6,357.19 286.1,357.05 286.6,357.03 287.1,356.88 287.6,356.66 288.1,356.77 288.6,356.89 289.1,356.96 289.61,356.85 290.11,356.97 290.61,356.91 291.11,356.9 291.61,356.96 292.11,357.15 292.61,357.07 293.12,357.09 293.62,357.22 294.12,357.45 294.62,357.52 295.12,357.68 295.62,357.75 296.12,357.92 296.62,357.95 297.13,358.19 297.63,358.31 298.13,358.17 298.63,358.07 299.13,358.19 299.63,358.09 300.13,358.2 300.64,358.07 301.14,358.01 301.64,358.08 302.14,358.2 302.64,358.4 303.14,358.26 303.64,358.44 304.14,358.31 304.65,358.15 305.15,358.14 305.65,358.28 306.15,358.16 306.65,358 307.15,357.96 307.65,358 308.16,358.08 308.66,358.16 309.16,358.29 309.66,358.95 310.16,358.99 310.66,359.11 311.16,359.25 311.67,359.17 312.17,359.23 312.67,359.22 313.17,359.27 313.67,359.11 314.17,358.96 314.67,359.15 315.17,359.25 315.68,359.3 316.18,359.1 316.68,358.99 317.18,359.06 317.68,359.16 318.18,359.09 318.68,358.97 319.19,358.82 319.69,358.9 320.19,358.78 320.69,358.74 321.19,358.78 321.69,358.64 322.19,358.78 322.69,358.72 323.2,358.91 323.7,359.05 324.2,358.9 324.7,359.02" fill="none" stroke="#cc3f55" stroke-width="1.1" stroke-linejoin="round"/>
<polyline points="212.9,358.19 213.4,358.05 213.9,358.24 214.4,358.41 214.91,358.29 215.41,358.21 215.91,358.17 216.41,358.27 216.91,358.25 217.41,358.23 217.91,358.23 218.41,358.38 218.92,358.43 219.42,358.48 219.92,358.41 220.42,358.25 220.92,358.13 221.42,358.18 221.92,358.25 222.43,358.39 222.93,358.61 223.43,358.81 223.93,358.83 224.43,358.91 224.93,358.97 225.43,358.84 225.93,358.86 226.44,358.87 226.94,359 227.44,359.2 227.94,359.27 228.44,359.41 228.94,359.4 229.44,359.22 229.95,359.17 230.45,359.31 230.95,359.17 231.45,359.09 231.95,359.03 232.45,358.92 232.95,358.86 233.46,358.8 233.96,358.9 234.46,358.76 234.96,358.63 235.46,358.81 235.96,358.74 236.46,358.69 236.96,358.73 237.47,358.74 237.97,358.75 238.47,358.6 238.97,358.61 239.47,358.49 239.97,358.56 240.47,358.42 240.98,358.28 241.48,358.31 241.98,358.29 242.48,358.15 242.98,358.09 243.48,358.11 243.98,358.23 244.48,358.29 244.99,358.21 245.49,358.32 245.99,358.16 246.49,358.24 246.99,358.08 247.49,358.14 247.99,357.97 248.5,357.9 249,357.9 249.5,357.9 250,357.85 250.5,357.82 251,357.88 251.5,357.98 252,357.94 252.51,357.75 253.01,357.68 253.51,357.81 254.01,357.64 254.51,357.51 255.01,357.31 255.51,357.36 256.02,357.19 256.52,357.25 257.02,357.06 257.52,356.98 258.02,356.87 258.52,356.48 259.02,356.33 259.53,355.95 260.03,355.38 260.53,354.94 261.03,354.38 261.53,353.42 262.03,352.45 262.53,351.13 263.03,349.78 263.54,347.92 264.04,345.69 264.54,342.74 265.04,339.41 265.54,335.09 266.04,330.46 266.54,325 267.05,319.48 267.55,313.96 268.05,308.9 268.55,305.41 269.05,303.77 269.55,304.1 270.05,306.65 270.55,310.98 271.06,316.02 271.56,321.8 272.06,327.52 272.56,332.68 273.06,337.12 273.56,340.85 274.06,344.18 274.57,346.84 275.07,349.12 275.57,350.82 276.07,352.07 276.57,353.08 277.07,353.82 277.57,354.46 278.07,354.93 278.58,355.34 279.08,355.76 279.58,356.18 280.08,356.37 280.58,356.63 281.08,356.92 281.58,357.02 282.09,356.93 282.59,357.09 283.09,357.05 283.59,357.05 284.09,356.99 284.59,357.05 285.09,356.78 285.6,356.79 286.1,356.66 286.6,356.61 287.1,356.7 287.6,356.6 288.1,356.67 288.6,356.78 289.1,356.91 289.61,357 290.11,357.13 290.61,357.08 291.11,357.11 291.61,356.99 292.11,356.92 292.61,356.86 293.12,357.1 293.62,357.25 294.12,357.48 294.62,357.56 295.12,357.63 295.62,357.63 296.12,357.66 296.62,357.86 297.13,357.97 297.63,358.03 298.13,358.27 298.63,358.47 299.13,358.51 299.63,358.65 300.13,358.55 300.64,358.63 301.14,358.76 301.64,358.84 302.14,358.89 302.64,358.94 303.14,358.88 303.64,358.84 304.14,358.86 304.65,358.76 305.15,358.82 305.65,358.63 306.15,358.43 306.65,358.34 307.15,358.36 307.65,358.36 308.16,358.33 308.66,358.49 309.16,358.51 309.66,359.21 310.16,359.31 310.66,359.43 311.16,359.29 311.67,359.31 312.17,359.28 312.67,359.11 313.17,359.06 313.67,359.14 314.17,358.96 314.67,359.02 315.17,359.2 315.68,359.12 316.18,359.26 316.68,359.31 317.18,359.16 317.68,359.09 318.18,359.26 318.68,359.26 319.19,359.28 319.69,359.26 320.19,359.35 320.69,359.29 321.19,359.42 321.69,359.46 322.19,359.47 322.69,359.27 323.2,359.41 323.7,359.28 324.2,359.37 324.7,359.32" fill="none" stroke="#302a58" stroke-width="1.3" stroke-linejoin="round"/>
<text x="347.9" y="244.2" font-size="10.8" fill="#000" font-weight="bold" stroke="#000" stroke-width="0.35">F</text>
<rect x="390.3" y="275" width="113" height="90.6" fill="none" stroke="#111" stroke-width="1.5"/>
<line x1="387.7" y1="365.6" x2="390.3" y2="365.6" stroke="#111" stroke-width="1.1"/>
<text x="383.8" y="368.5" font-size="8" fill="#1e1e1e" text-anchor="end" stroke="#1e1e1e" stroke-width="0.12">0</text>
<line x1="387.7" y1="347.48" x2="390.3" y2="347.48" stroke="#111" stroke-width="1.1"/>
<text x="383.8" y="350.38" font-size="8" fill="#1e1e1e" text-anchor="end" stroke="#1e1e1e" stroke-width="0.12">5</text>
<line x1="387.7" y1="329.36" x2="390.3" y2="329.36" stroke="#111" stroke-width="1.1"/>
<text x="383.8" y="332.26" font-size="8" fill="#1e1e1e" text-anchor="end" stroke="#1e1e1e" stroke-width="0.12">10</text>
<line x1="387.7" y1="311.24" x2="390.3" y2="311.24" stroke="#111" stroke-width="1.1"/>
<text x="383.8" y="314.14" font-size="8" fill="#1e1e1e" text-anchor="end" stroke="#1e1e1e" stroke-width="0.12">15</text>
<line x1="387.7" y1="293.12" x2="390.3" y2="293.12" stroke="#111" stroke-width="1.1"/>
<text x="383.8" y="296.02" font-size="8" fill="#1e1e1e" text-anchor="end" stroke="#1e1e1e" stroke-width="0.12">20</text>
<line x1="387.7" y1="275" x2="390.3" y2="275" stroke="#111" stroke-width="1.1"/>
<text x="383.8" y="277.9" font-size="8" fill="#1e1e1e" text-anchor="end" stroke="#1e1e1e" stroke-width="0.12">25</text>
<text x="400" y="257.8" font-size="9.66" fill="#1e1e1e" textLength="95.4" lengthAdjust="spacingAndGlyphs" stroke="#1e1e1e" stroke-width="0.12">C/EBP&#945; ChIP signal at</text>
<text x="421" y="270.2" font-size="9.66" fill="#1e1e1e" textLength="53.5" lengthAdjust="spacingAndGlyphs" stroke="#1e1e1e" stroke-width="0.12">ATAC peaks</text>
<text x="369.6" y="360.6" font-size="9.03" fill="#1e1e1e" textLength="80" lengthAdjust="spacingAndGlyphs" transform="rotate(-90 369.6 360.6)" stroke="#1e1e1e" stroke-width="0.12">Normalized ChIP signal</text>
<text x="382.9" y="376.6" font-size="8.4" fill="#1e1e1e" textLength="15.7" lengthAdjust="spacingAndGlyphs" stroke="#1e1e1e" stroke-width="0.12">-5kb</text>
<text x="438.5" y="376.6" font-size="8.4" fill="#1e1e1e" textLength="17.7" lengthAdjust="spacingAndGlyphs" stroke="#1e1e1e" stroke-width="0.12">Peak</text>
<text x="495.2" y="376.6" font-size="8.4" fill="#1e1e1e" textLength="20.4" lengthAdjust="spacingAndGlyphs" stroke="#1e1e1e" stroke-width="0.12">+5kb</text>
<polyline points="390.9,359.7 391.4,359.7 391.9,359.77 392.4,359.75 392.9,359.73 393.4,359.91 393.91,360.1 394.41,359.97 394.91,360.06 395.41,360.16 395.91,359.97 396.41,359.98 396.91,359.87 397.41,359.89 397.91,359.86 398.41,360 398.91,359.95 399.42,359.82 399.92,359.83 400.42,359.75 400.92,359.7 401.42,359.88 401.92,359.78 402.42,359.75 402.92,359.82 403.42,359.98 403.92,359.82 404.42,359.81 404.92,359.71 405.43,359.56 405.93,359.48 406.43,359.32 406.93,359.37 407.43,359.26 407.93,359.29 408.43,359.13 408.93,359 409.43,359.16 409.93,359.29 410.43,359.38 410.94,359.17 411.44,359.18 411.94,359.12 412.44,359.17 412.94,359.14 413.44,359.16 413.94,359.18 414.44,359.12 414.94,359.05 415.44,358.88 415.94,358.8 416.45,358.64 416.95,358.53 417.45,358.37 417.95,358.34 418.45,358.5 418.95,358.39 419.45,358.26 419.95,358.16 420.45,358.19 420.95,358.17 421.45,358.33 421.96,358.25 422.46,358.28 422.96,358.4 423.46,358.6 423.96,358.49 424.46,358.34 424.96,358.54 425.46,358.46 425.96,358.53 426.46,358.68 426.96,358.77 427.47,358.68 427.97,358.56 428.47,358.75 428.97,358.72 429.47,358.89 429.97,358.8 430.47,358.86 430.97,358.71 431.47,358.53 431.97,358.54 432.47,358.37 432.97,358.45 433.48,358.6 433.98,358.54 434.48,358.68 434.98,358.73 435.48,358.68 435.98,358.54 436.48,358.56 436.98,358.59 437.48,358.27 437.98,358.15 438.48,357.74 438.99,357.33 439.49,357.05 439.99,356.65 440.49,356.12 440.99,355.41 441.49,354.52 441.99,353.4 442.49,351.93 442.99,349.92 443.49,347.53 443.99,344.47 444.5,340.5 445,335.84 445.5,330.39 446,324.31 446.5,318.75 447,314.5 447.5,312.74 448,313.59 448.5,316.94 449,322.24 449.5,328.01 450.01,333.64 450.51,338.84 451.01,342.98 451.51,346.34 452.01,348.9 452.51,350.97 453.01,352.44 453.51,353.55 454.01,354.64 454.51,355.5 455.01,355.96 455.52,356.22 456.02,356.66 456.52,356.95 457.02,357.13 457.52,357.39 458.02,357.59 458.52,357.78 459.02,357.93 459.52,357.98 460.02,358.13 460.52,358.24 461.02,358.2 461.53,358.44 462.03,358.46 462.53,358.43 463.03,358.55 463.53,358.7 464.03,358.64 464.53,358.78 465.03,358.94 465.53,359 466.03,358.96 466.53,359.14 467.04,359.24 467.54,359.32 468.04,359.22 468.54,359.28 469.04,359.18 469.54,359.34 470.04,359.44 470.54,359.41 471.04,359.3 471.54,359.36 472.04,359.5 472.55,359.67 473.05,359.67 473.55,359.79 474.05,359.68 474.55,359.57 475.05,359.71 475.55,359.8 476.05,359.68 476.55,359.64 477.05,359.54 477.55,359.61 478.06,359.76 478.56,359.83 479.06,359.7 479.56,359.78 480.06,359.82 480.56,359.82 481.06,359.82 481.56,359.83 482.06,359.64 482.56,359.74 483.06,359.89 483.57,359.68 484.07,359.51 484.57,359.32 485.07,359.34 485.57,359.17 486.07,359.02 486.57,359.14 487.07,359.06 487.57,358.95 488.07,358.91 488.57,358.93 489.08,359.03 489.58,359.1 490.08,359.2 490.58,359.35 491.08,359.3 491.58,359.36 492.08,359.22 492.58,359.38 493.08,359.22 493.58,359.14 494.08,358.99 494.58,358.87 495.09,358.77 495.59,358.79 496.09,359.02 496.59,358.96 497.09,359.12 497.59,359.22 498.09,359.19 498.59,359.21 499.09,359.27 499.59,359.14 500.09,359.14 500.6,359.25 501.1,359.38 501.6,359.28 502.1,359.34 502.6,359.28 503.1,359.39" fill="none" stroke="#2a3270" stroke-width="1.3" stroke-linejoin="round"/>
<polyline points="390.9,359.7 391.4,359.86 391.9,359.91 392.4,360.04 392.9,360.19 393.4,360.2 393.91,360.03 394.41,359.92 394.91,359.84 395.41,359.96 395.91,359.95 396.41,360.04 396.91,360.16 397.41,360.29 397.91,360.37 398.41,360.18 398.91,360.04 399.42,359.93 399.92,359.82 400.42,359.94 400.92,360.01 401.42,359.95 401.92,359.85 402.42,359.72 402.92,359.59 403.42,359.75 403.92,359.71 404.42,359.64 404.92,359.63 405.43,359.74 405.93,359.73 406.43,359.85 406.93,359.65 407.43,359.49 407.93,359.45 408.43,359.51 408.93,359.33 409.43,359.29 409.93,359.13 410.43,359 410.94,359.01 411.44,359.04 411.94,359 412.44,359.02 412.94,359.13 413.44,359.17 413.94,359.03 414.44,359.18 414.94,359.3 415.44,359.21 415.94,359.24 416.45,359.18 416.95,359.15 417.45,359.16 417.95,358.94 418.45,359.03 418.95,359.03 419.45,359.11 419.95,359.02 420.45,359.07 420.95,359.09 421.45,358.96 421.96,359.01 422.46,358.96 422.96,358.8 423.46,358.94 423.96,359.08 424.46,359.15 424.96,359.02 425.46,358.96 425.96,359.04 426.46,359.08 426.96,359.17 427.47,359.15 427.97,359.28 428.47,359.16 428.97,358.98 429.47,358.8 429.97,358.71 430.47,358.55 430.97,358.74 431.47,358.81 431.97,358.62 432.47,358.51 432.97,358.54 433.48,358.37 433.98,358.32 434.48,358.19 434.98,358.25 435.48,358.32 435.98,358.27 436.48,358.31 436.98,358.23 437.48,357.9 437.98,357.79 438.48,357.75 438.99,357.63 439.49,357.37 439.99,356.81 440.49,356.29 440.99,355.66 441.49,354.91 441.99,353.59 442.49,352.18 442.99,350.44 443.49,348.25 443.99,345.44 444.5,341.89 445,337.45 445.5,332.64 446,327.64 446.5,322.86 447,319.35 447.5,317.49 448,318.26 448.5,320.99 449,325.14 449.5,330.12 450.01,334.89 450.51,339.4 451.01,343.33 451.51,346.48 452.01,349.13 452.51,351.09 453.01,352.68 453.51,353.68 454.01,354.46 454.51,355.17 455.01,355.9 455.52,356.42 456.02,356.84 456.52,357.21 457.02,357.5 457.52,357.52 458.02,357.79 458.52,358.06 459.02,357.98 459.52,358.03 460.02,357.93 460.52,358.06 461.02,357.99 461.53,358.02 462.03,358 462.53,358.01 463.03,358.11 463.53,358.35 464.03,358.54 464.53,358.46 465.03,358.39 465.53,358.33 466.03,358.49 466.53,358.52 467.04,358.5 467.54,358.55 468.04,358.53 468.54,358.62 469.04,358.66 469.54,358.69 470.04,358.87 470.54,358.8 471.04,358.73 471.54,358.98 472.04,358.89 472.55,358.81 473.05,358.85 473.55,359.11 474.05,359.03 474.55,359.24 475.05,359.13 475.55,359.13 476.05,359.36 476.55,359.52 477.05,359.49 477.55,359.49 478.06,359.42 478.56,359.29 479.06,359.43 479.56,359.63 480.06,359.48 480.56,359.66 481.06,359.52 481.56,359.65 482.06,359.52 482.56,359.41 483.06,359.28 483.57,359.27 484.07,359.14 484.57,359.27 485.07,359.21 485.57,359.28 486.07,359.13 486.57,359.04 487.07,359.07 487.57,359.07 488.07,359.25 488.57,359.41 489.08,359.35 489.58,359.33 490.08,359.18 490.58,359.14 491.08,359.27 491.58,359.31 492.08,359.19 492.58,359.18 493.08,359.36 493.58,359.22 494.08,359.1 494.58,359.26 495.09,359.24 495.59,359.29 496.09,359.19 496.59,359.27 497.09,359.38 497.59,359.39 498.09,359.22 498.59,359.4 499.09,359.55 499.59,359.5 500.09,359.37 500.6,359.39 501.1,359.45 501.6,359.34 502.1,359.28 502.6,359.49 503.1,359.39" fill="none" stroke="#8e2040" stroke-width="1.2" stroke-linejoin="round"/>
<text x="6.4" y="405.8" font-size="10.8" fill="#000" font-weight="bold" stroke="#000" stroke-width="0.35">G</text>
<line x1="194" y1="422.9" x2="254" y2="422.9" stroke="#111" stroke-width="1.4"/>
<text x="215" y="418.4" font-size="8.19" fill="#1e1e1e" textLength="18.9" lengthAdjust="spacingAndGlyphs" stroke="#1e1e1e" stroke-width="0.12">10 kb</text>
<text x="32.2" y="427.1" font-size="7.77" fill="#555" textLength="23.1" lengthAdjust="spacingAndGlyphs">[0 - 10]</text>
<text x="32.2" y="440.2" font-size="7.77" fill="#555" textLength="23.1" lengthAdjust="spacingAndGlyphs">[0 - 10]</text>
<text x="32.2" y="455.7" font-size="7.77" fill="#555" textLength="23.1" lengthAdjust="spacingAndGlyphs">[0 - 10]</text>
<text x="32.2" y="471.6" font-size="7.77" fill="#555" textLength="23.1" lengthAdjust="spacingAndGlyphs">[0 - 10]</text>
<text x="32.2" y="486.9" font-size="7.77" fill="#555" textLength="23.1" lengthAdjust="spacingAndGlyphs">[0 - 25]</text>
<text x="32.2" y="501.9" font-size="7.77" fill="#555" textLength="23.1" lengthAdjust="spacingAndGlyphs">[0 - 25]</text>
<text x="32.2" y="516.9" font-size="7.77" fill="#555" textLength="23.1" lengthAdjust="spacingAndGlyphs">[0 - 50]</text>
<text x="32.2" y="532.2" font-size="7.77" fill="#555" textLength="23.1" lengthAdjust="spacingAndGlyphs">[0 - 50]</text>
<text x="32.2" y="547.9" font-size="7.77" fill="#555" textLength="23.1" lengthAdjust="spacingAndGlyphs">[0 - 15]</text>
<text x="277.6" y="429" font-size="8.61" fill="#1e1e1e" textLength="26.9" lengthAdjust="spacingAndGlyphs" stroke="#1e1e1e" stroke-width="0.12">Control</text>
<text x="277.6" y="444.28" font-size="8.61" fill="#1e1e1e" textLength="28.4" lengthAdjust="spacingAndGlyphs" stroke="#1e1e1e" stroke-width="0.12">DOT1Li</text>
<text x="277.6" y="459.56" font-size="8.61" fill="#1e1e1e" textLength="26.9" lengthAdjust="spacingAndGlyphs" stroke="#1e1e1e" stroke-width="0.12">Control</text>
<text x="277.6" y="474.84" font-size="8.61" fill="#1e1e1e" textLength="19.6" lengthAdjust="spacingAndGlyphs" stroke="#1e1e1e" stroke-width="0.12">LSD1i</text>
<text x="277.6" y="490.12" font-size="8.61" fill="#1e1e1e" textLength="26.9" lengthAdjust="spacingAndGlyphs" stroke="#1e1e1e" stroke-width="0.12">Control</text>
<text x="277.6" y="505.4" font-size="8.61" fill="#1e1e1e" textLength="19.6" lengthAdjust="spacingAndGlyphs" stroke="#1e1e1e" stroke-width="0.12">LSD1i</text>
<text x="277.6" y="520.68" font-size="8.61" fill="#1e1e1e" textLength="26.9" lengthAdjust="spacingAndGlyphs" stroke="#1e1e1e" stroke-width="0.12">Control</text>
<text x="277.6" y="535.96" font-size="8.61" fill="#1e1e1e" textLength="19.6" lengthAdjust="spacingAndGlyphs" stroke="#1e1e1e" stroke-width="0.12">LSD1i</text>
<text x="277.6" y="551.24" font-size="8.61" fill="#1e1e1e" textLength="26.9" lengthAdjust="spacingAndGlyphs" stroke="#1e1e1e" stroke-width="0.12">Control</text>
<line x1="29.3" y1="421.5" x2="29.3" y2="476.2" stroke="#111" stroke-width="1.3"/>
<line x1="29.3" y1="482.3" x2="29.3" y2="509.2" stroke="#111" stroke-width="1.3"/>
<line x1="29.3" y1="512.3" x2="29.3" y2="539.2" stroke="#111" stroke-width="1.3"/>
<line x1="29.3" y1="542.3" x2="29.3" y2="553.8" stroke="#111" stroke-width="1.3"/>
<text x="24.8" y="460" font-size="9.24" fill="#1e1e1e" textLength="20.8" lengthAdjust="spacingAndGlyphs" transform="rotate(-90 24.8 460)" stroke="#1e1e1e" stroke-width="0.12">ATAC</text>
<text x="24.8" y="509.2" font-size="9.24" fill="#1e1e1e" textLength="27.8" lengthAdjust="spacingAndGlyphs" transform="rotate(-90 24.8 509.2)" stroke="#1e1e1e" stroke-width="0.12">C/EBPa</text>
<text x="24.8" y="534.6" font-size="9.24" fill="#1e1e1e" textLength="16.1" lengthAdjust="spacingAndGlyphs" transform="rotate(-90 24.8 534.6)" stroke="#1e1e1e" stroke-width="0.12">PU.1</text>
<text x="24.8" y="557.7" font-size="9.24" fill="#1e1e1e" textLength="17.7" lengthAdjust="spacingAndGlyphs" transform="rotate(-90 24.8 557.7)" stroke="#1e1e1e" stroke-width="0.12">LSD1</text>
<line x1="32.6" y1="433.8" x2="274" y2="433.8" stroke="#d0d0d6" stroke-width="0.7"/>
<rect x="42.04" y="433.01" width="0.97" height="1.14" fill="#2a2a3e"/>
<rect x="44.54" y="433.31" width="0.83" height="0.84" fill="#2a2a3e"/>
<rect x="50.62" y="433.46" width="1.38" height="0.69" fill="#2a2a3e"/>
<rect x="57.04" y="433.1" width="1.14" height="1.05" fill="#2a2a3e"/>
<rect x="59.48" y="432.87" width="1.26" height="1.28" fill="#2a2a3e"/>
<rect x="67.32" y="433.3" width="1.63" height="0.85" fill="#2a2a3e"/>
<rect x="73.01" y="432.91" width="1.62" height="1.24" fill="#2a2a3e"/>
<rect x="78.79" y="432.95" width="1.41" height="1.2" fill="#2a2a3e"/>
<rect x="81.73" y="433.13" width="0.66" height="1.02" fill="#2a2a3e"/>
<rect x="83.81" y="433.09" width="1.35" height="1.06" fill="#2a2a3e"/>
<rect x="87.15" y="433.42" width="0.74" height="0.73" fill="#2a2a3e"/>
<rect x="100.9" y="433.38" width="0.84" height="0.77" fill="#2a2a3e"/>
<rect x="103.27" y="433.46" width="1.37" height="0.69" fill="#2a2a3e"/>
<rect x="106.68" y="433.41" width="1.15" height="0.74" fill="#2a2a3e"/>
<rect x="108.34" y="433.4" width="0.77" height="0.75" fill="#2a2a3e"/>
<rect x="113.6" y="433.42" width="1.45" height="0.73" fill="#2a2a3e"/>
<rect x="117.72" y="432.89" width="0.97" height="1.26" fill="#2a2a3e"/>
<rect x="121.59" y="433.34" width="0.7" height="0.81" fill="#2a2a3e"/>
<rect x="138.59" y="432.96" width="0.79" height="1.19" fill="#2a2a3e"/>
<rect x="140.19" y="433.11" width="1.35" height="1.04" fill="#2a2a3e"/>
<rect x="143.03" y="432.95" width="0.96" height="1.2" fill="#2a2a3e"/>
<rect x="144.88" y="433.23" width="1.07" height="0.92" fill="#2a2a3e"/>
<rect x="148.8" y="433.54" width="1.13" height="0.61" fill="#2a2a3e"/>
<rect x="149.75" y="433.11" width="0.71" height="1.04" fill="#2a2a3e"/>
<rect x="151.8" y="433.14" width="1.51" height="1.01" fill="#2a2a3e"/>
<rect x="157.57" y="432.96" width="1.6" height="1.19" fill="#2a2a3e"/>
<rect x="164.5" y="433.54" width="0.64" height="0.61" fill="#2a2a3e"/>
<rect x="170.33" y="432.92" width="0.66" height="1.23" fill="#2a2a3e"/>
<rect x="177.77" y="433.39" width="1.29" height="0.76" fill="#2a2a3e"/>
<rect x="179.81" y="432.93" width="0.87" height="1.22" fill="#2a2a3e"/>
<rect x="182.39" y="432.93" width="0.97" height="1.22" fill="#2a2a3e"/>
<rect x="185.46" y="433.01" width="1.01" height="1.14" fill="#2a2a3e"/>
<rect x="188.52" y="433.41" width="0.98" height="0.74" fill="#2a2a3e"/>
<rect x="195.4" y="432.87" width="1.25" height="1.28" fill="#2a2a3e"/>
<rect x="200.1" y="433.4" width="0.92" height="0.75" fill="#2a2a3e"/>
<rect x="202.58" y="433.36" width="0.63" height="0.79" fill="#2a2a3e"/>
<rect x="205.09" y="433.49" width="1.39" height="0.66" fill="#2a2a3e"/>
<rect x="207.43" y="433.29" width="1.34" height="0.86" fill="#2a2a3e"/>
<rect x="211.06" y="433.52" width="1.61" height="0.63" fill="#2a2a3e"/>
<rect x="216.51" y="433.15" width="1.3" height="1" fill="#2a2a3e"/>
<rect x="218.98" y="433.32" width="1.08" height="0.83" fill="#2a2a3e"/>
<rect x="224.94" y="433.48" width="1.2" height="0.67" fill="#2a2a3e"/>
<rect x="226.86" y="433.12" width="0.7" height="1.03" fill="#2a2a3e"/>
<rect x="242.72" y="432.89" width="1.76" height="1.26" fill="#2a2a3e"/>
<rect x="246.01" y="433.11" width="1.55" height="1.04" fill="#2a2a3e"/>
<rect x="254.57" y="433.21" width="0.71" height="0.94" fill="#2a2a3e"/>
<rect x="258.98" y="432.86" width="1.45" height="1.29" fill="#2a2a3e"/>
<rect x="262.45" y="432.96" width="1.28" height="1.19" fill="#2a2a3e"/>
<rect x="269.24" y="433.23" width="1.11" height="0.92" fill="#2a2a3e"/>
<rect x="271.78" y="433.24" width="0.84" height="0.91" fill="#2a2a3e"/>
<path d="M88.1 434.15 L88.1 433.26 L88.35 433.04 L88.6 432.85 L88.85 432.72 L89.1 432.71 L89.35 432.82 L89.6 433 L89.85 433.21 L89.85 434.15 Z" fill="#2a2a3e"/>
<path d="M106.85 434.15 L106.85 433.38 L107.1 433.17 L107.35 432.91 L107.6 432.68 L107.85 432.53 L108.1 432.51 L108.35 432.64 L108.6 432.86 L108.85 433.12 L109.1 433.34 L109.1 434.15 Z" fill="#2a2a3e"/>
<path d="M155.35 434.15 L155.35 433.28 L155.6 432.96 L155.85 432.56 L156.1 432.14 L156.35 431.82 L156.6 431.7 L156.85 431.82 L157.1 432.14 L157.35 432.56 L157.6 432.96 L157.85 433.28 L157.85 434.15 Z" fill="#2a2a3e"/>
<line x1="32.6" y1="449.06" x2="274" y2="449.06" stroke="#d0d0d6" stroke-width="0.7"/>
<rect x="32.6" y="448.16" width="1.76" height="1.25" fill="#2a2a3e"/>
<rect x="36.09" y="448.33" width="0.95" height="1.08" fill="#2a2a3e"/>
<rect x="38.46" y="448.27" width="0.71" height="1.14" fill="#2a2a3e"/>
<rect x="42.23" y="448.6" width="1.12" height="0.81" fill="#2a2a3e"/>
<rect x="46.78" y="448.51" width="1.06" height="0.9" fill="#2a2a3e"/>
<rect x="51.51" y="448.32" width="0.63" height="1.09" fill="#2a2a3e"/>
<rect x="54.09" y="448.76" width="0.82" height="0.65" fill="#2a2a3e"/>
<rect x="56.24" y="448.48" width="1.38" height="0.93" fill="#2a2a3e"/>
<rect x="63.45" y="448.57" width="0.64" height="0.84" fill="#2a2a3e"/>
<rect x="66.76" y="448.27" width="1.45" height="1.14" fill="#2a2a3e"/>
<rect x="71.33" y="448.29" width="1.55" height="1.12" fill="#2a2a3e"/>
<rect x="72.38" y="448.71" width="1.67" height="0.7" fill="#2a2a3e"/>
<rect x="77.31" y="448.33" width="1.26" height="1.08" fill="#2a2a3e"/>
<rect x="78.72" y="448.23" width="0.93" height="1.18" fill="#2a2a3e"/>
<rect x="81.11" y="448.12" width="0.73" height="1.29" fill="#2a2a3e"/>
<rect x="82.36" y="448.35" width="0.71" height="1.06" fill="#2a2a3e"/>
<rect x="84.78" y="448.21" width="1.36" height="1.2" fill="#2a2a3e"/>
<rect x="88.81" y="448.35" width="0.93" height="1.06" fill="#2a2a3e"/>
<rect x="95.57" y="448.66" width="0.67" height="0.75" fill="#2a2a3e"/>
<rect x="97.98" y="448.57" width="0.74" height="0.84" fill="#2a2a3e"/>
<rect x="98.9" y="448.34" width="1.4" height="1.07" fill="#2a2a3e"/>
<rect x="100.36" y="448.43" width="1.4" height="0.98" fill="#2a2a3e"/>
<rect x="104.8" y="448.49" width="1.12" height="0.92" fill="#2a2a3e"/>
<rect x="106.93" y="448.12" width="0.66" height="1.29" fill="#2a2a3e"/>
<rect x="108.26" y="448.62" width="1.4" height="0.79" fill="#2a2a3e"/>
<rect x="117.23" y="448.62" width="1.14" height="0.79" fill="#2a2a3e"/>
<rect x="118.14" y="448.21" width="1.5" height="1.2" fill="#2a2a3e"/>
<rect x="124.28" y="448.71" width="1.48" height="0.7" fill="#2a2a3e"/>
<rect x="126.52" y="448.64" width="0.92" height="0.77" fill="#2a2a3e"/>
<rect x="129.79" y="448.7" width="0.83" height="0.71" fill="#2a2a3e"/>
<rect x="134.88" y="448.45" width="0.83" height="0.96" fill="#2a2a3e"/>
<rect x="138.57" y="448.16" width="1.31" height="1.25" fill="#2a2a3e"/>
<rect x="144.12" y="448.78" width="0.73" height="0.63" fill="#2a2a3e"/>
<rect x="150.27" y="448.77" width="0.76" height="0.64" fill="#2a2a3e"/>
<rect x="154.18" y="448.3" width="0.88" height="1.11" fill="#2a2a3e"/>
<rect x="161.78" y="448.6" width="0.64" height="0.81" fill="#2a2a3e"/>
<rect x="166.68" y="448.5" width="0.8" height="0.91" fill="#2a2a3e"/>
<rect x="178.7" y="448.15" width="1.55" height="1.26" fill="#2a2a3e"/>
<rect x="182.64" y="448.75" width="1.41" height="0.66" fill="#2a2a3e"/>
<rect x="184.97" y="448.78" width="1.63" height="0.63" fill="#2a2a3e"/>
<rect x="186.96" y="448.81" width="0.67" height="0.6" fill="#2a2a3e"/>
<rect x="199.56" y="448.45" width="1.51" height="0.96" fill="#2a2a3e"/>
<rect x="204.99" y="448.61" width="1.44" height="0.8" fill="#2a2a3e"/>
<rect x="210.04" y="448.77" width="1.13" height="0.64" fill="#2a2a3e"/>
<rect x="217.9" y="448.2" width="1.54" height="1.21" fill="#2a2a3e"/>
<rect x="225.18" y="448.4" width="1.49" height="1.01" fill="#2a2a3e"/>
<rect x="227.62" y="448.44" width="1.46" height="0.97" fill="#2a2a3e"/>
<rect x="228.44" y="448.19" width="1.28" height="1.22" fill="#2a2a3e"/>
<rect x="232.82" y="448.42" width="0.77" height="0.99" fill="#2a2a3e"/>
<rect x="234.94" y="448.46" width="0.78" height="0.95" fill="#2a2a3e"/>
<rect x="237.22" y="448.51" width="0.79" height="0.9" fill="#2a2a3e"/>
<rect x="238.57" y="448.76" width="1.57" height="0.65" fill="#2a2a3e"/>
<rect x="242.05" y="448.65" width="0.79" height="0.76" fill="#2a2a3e"/>
<rect x="242.86" y="448.17" width="1.46" height="1.24" fill="#2a2a3e"/>
<rect x="247.88" y="448.32" width="1.66" height="1.09" fill="#2a2a3e"/>
<rect x="251.1" y="448.13" width="1.73" height="1.28" fill="#2a2a3e"/>
<rect x="253.51" y="448.5" width="0.73" height="0.91" fill="#2a2a3e"/>
<rect x="258" y="448.66" width="1.71" height="0.75" fill="#2a2a3e"/>
<rect x="259.25" y="448.2" width="1.42" height="1.21" fill="#2a2a3e"/>
<rect x="260.24" y="448.72" width="0.81" height="0.69" fill="#2a2a3e"/>
<rect x="262.61" y="448.38" width="1.71" height="1.03" fill="#2a2a3e"/>
<rect x="269.91" y="448.55" width="0.66" height="0.86" fill="#2a2a3e"/>
<rect x="272.12" y="448.21" width="1.64" height="1.2" fill="#2a2a3e"/>
<line x1="32.6" y1="464.32" x2="274" y2="464.32" stroke="#9fcfd2" stroke-width="0.7"/>
<rect x="43.75" y="463.5" width="0.75" height="1.17" fill="#3a8f96"/>
<rect x="53.07" y="463.59" width="1" height="1.08" fill="#3a8f96"/>
<rect x="57.6" y="463.66" width="0.85" height="1.01" fill="#3a8f96"/>
<rect x="83.06" y="463.47" width="0.69" height="1.2" fill="#3a8f96"/>
<rect x="89.2" y="463.61" width="1.14" height="1.06" fill="#3a8f96"/>
<rect x="93.95" y="463.96" width="1.07" height="0.71" fill="#3a8f96"/>
<rect x="95.16" y="463.85" width="1.1" height="0.82" fill="#3a8f96"/>
<rect x="98.29" y="463.55" width="0.96" height="1.12" fill="#3a8f96"/>
<rect x="104.57" y="463.95" width="0.71" height="0.72" fill="#3a8f96"/>
<rect x="126.11" y="463.41" width="0.83" height="1.26" fill="#3a8f96"/>
<rect x="133.79" y="463.75" width="1.7" height="0.92" fill="#3a8f96"/>
<rect x="135.21" y="463.66" width="0.61" height="1.01" fill="#3a8f96"/>
<rect x="140.22" y="463.54" width="1.51" height="1.13" fill="#3a8f96"/>
<rect x="142.74" y="463.68" width="1.21" height="0.99" fill="#3a8f96"/>
<rect x="155.27" y="464.02" width="0.78" height="0.65" fill="#3a8f96"/>
<rect x="162.26" y="463.93" width="1.18" height="0.74" fill="#3a8f96"/>
<rect x="167.2" y="463.59" width="0.67" height="1.08" fill="#3a8f96"/>
<rect x="169.25" y="463.37" width="1.14" height="1.3" fill="#3a8f96"/>
<rect x="182.2" y="463.51" width="0.99" height="1.16" fill="#3a8f96"/>
<rect x="191.23" y="463.47" width="1.63" height="1.2" fill="#3a8f96"/>
<rect x="197.08" y="463.92" width="0.81" height="0.75" fill="#3a8f96"/>
<rect x="206.7" y="463.95" width="1.3" height="0.72" fill="#3a8f96"/>
<rect x="213.63" y="463.59" width="1.08" height="1.08" fill="#3a8f96"/>
<rect x="230.01" y="463.72" width="0.62" height="0.95" fill="#3a8f96"/>
<rect x="233.65" y="463.81" width="1.2" height="0.86" fill="#3a8f96"/>
<rect x="245.18" y="463.96" width="1.03" height="0.71" fill="#3a8f96"/>
<rect x="252.68" y="463.39" width="1.04" height="1.28" fill="#3a8f96"/>
<rect x="259.23" y="463.44" width="1.79" height="1.23" fill="#3a8f96"/>
<rect x="265.34" y="463.78" width="1.51" height="0.89" fill="#3a8f96"/>
<rect x="269.07" y="463.65" width="1.33" height="1.02" fill="#3a8f96"/>
<path d="M152.35 464.67 L152.35 463.89 L152.6 463.83 L152.85 463.76 L153.1 463.69 L153.35 463.62 L153.6 463.55 L153.85 463.48 L154.1 463.42 L154.35 463.36 L154.6 463.31 L154.85 463.27 L155.1 463.24 L155.35 463.22 L155.6 463.22 L155.85 463.23 L156.1 463.26 L156.35 463.3 L156.6 463.35 L156.85 463.4 L157.1 463.47 L157.35 463.54 L157.6 463.61 L157.85 463.68 L158.1 463.75 L158.35 463.81 L158.6 463.88 L158.6 464.67 Z" fill="#3a8f96"/>
<line x1="32.6" y1="479.58" x2="274" y2="479.58" stroke="#9fcfd2" stroke-width="0.7"/>
<rect x="37.26" y="479.24" width="1.32" height="0.69" fill="#1f9ea0"/>
<rect x="39.93" y="479.17" width="0.7" height="0.76" fill="#1f9ea0"/>
<rect x="42.3" y="479.25" width="0.87" height="0.68" fill="#1f9ea0"/>
<rect x="66.24" y="479.26" width="1.7" height="0.67" fill="#1f9ea0"/>
<rect x="102.32" y="478.72" width="1.34" height="1.21" fill="#1f9ea0"/>
<rect x="108.51" y="478.71" width="0.63" height="1.22" fill="#1f9ea0"/>
<rect x="110.44" y="479.13" width="1.11" height="0.8" fill="#1f9ea0"/>
<rect x="129.29" y="479.32" width="1.19" height="0.61" fill="#1f9ea0"/>
<rect x="131.77" y="478.86" width="1.15" height="1.07" fill="#1f9ea0"/>
<rect x="138.55" y="478.96" width="1.72" height="0.97" fill="#1f9ea0"/>
<rect x="144.05" y="478.79" width="1.12" height="1.14" fill="#1f9ea0"/>
<rect x="154.62" y="478.9" width="0.94" height="1.03" fill="#1f9ea0"/>
<rect x="161.63" y="479.31" width="0.93" height="0.62" fill="#1f9ea0"/>
<rect x="169.93" y="478.88" width="0.73" height="1.05" fill="#1f9ea0"/>
<rect x="186.61" y="479.04" width="1.5" height="0.89" fill="#1f9ea0"/>
<rect x="197.33" y="478.7" width="0.9" height="1.23" fill="#1f9ea0"/>
<rect x="198.61" y="479.01" width="0.63" height="0.92" fill="#1f9ea0"/>
<rect x="207.86" y="478.66" width="0.96" height="1.27" fill="#1f9ea0"/>
<rect x="219.06" y="479.02" width="1.24" height="0.91" fill="#1f9ea0"/>
<rect x="228.59" y="479.02" width="0.74" height="0.91" fill="#1f9ea0"/>
<rect x="234.2" y="479.11" width="0.75" height="0.82" fill="#1f9ea0"/>
<rect x="235.16" y="479.09" width="1.01" height="0.84" fill="#1f9ea0"/>
<rect x="241.27" y="478.84" width="1.8" height="1.09" fill="#1f9ea0"/>
<rect x="242.09" y="479.26" width="0.89" height="0.67" fill="#1f9ea0"/>
<rect x="246.17" y="479.06" width="0.63" height="0.87" fill="#1f9ea0"/>
<rect x="250.29" y="479.07" width="1.12" height="0.86" fill="#1f9ea0"/>
<rect x="256.3" y="478.77" width="0.78" height="1.16" fill="#1f9ea0"/>
<rect x="261.9" y="478.93" width="1.79" height="1" fill="#1f9ea0"/>
<rect x="272.53" y="478.83" width="1.47" height="1.1" fill="#1f9ea0"/>
<path d="M150.6 479.93 L150.6 479.17 L150.85 479.07 L151.1 478.96 L151.35 478.83 L151.6 478.68 L151.85 478.53 L152.1 478.36 L152.35 478.19 L152.6 478.02 L152.85 477.86 L153.1 477.72 L153.35 477.61 L153.6 477.53 L153.85 477.49 L154.1 477.48 L154.35 477.52 L154.6 477.59 L154.85 477.7 L155.1 477.83 L155.35 476.29 L155.6 473.82 L155.85 472.57 L156.1 472.29 L156.35 472.28 L156.6 472.34 L156.85 472.91 L157.1 474.7 L157.35 477.34 L157.6 478.25 L157.85 478.13 L158.1 478.04 L158.35 477.99 L158.6 477.98 L158.85 478.03 L159.1 478.11 L159.35 478.23 L159.6 478.37 L159.85 478.53 L160.1 478.69 L160.35 478.84 L160.6 478.98 L160.85 479.1 L160.85 479.93 Z" fill="#1f9ea0"/>
<path d="M261.85 479.93 L261.85 479.09 L262.1 478.94 L262.35 478.76 L262.6 478.57 L262.85 478.4 L263.1 478.27 L263.35 478.19 L263.6 478.19 L263.85 478.25 L264.1 478.37 L264.35 478.54 L264.6 478.72 L264.85 478.9 L265.1 479.06 L265.1 479.93 Z" fill="#1f9ea0"/>
<line x1="32.6" y1="494.84" x2="274" y2="494.84" stroke="#e2c8b6" stroke-width="0.7"/>
<rect x="35.13" y="494.09" width="1" height="1.1" fill="#8f5226"/>
<rect x="37.25" y="493.96" width="0.8" height="1.23" fill="#8f5226"/>
<rect x="49.22" y="494.19" width="0.82" height="1" fill="#8f5226"/>
<rect x="57.92" y="494.56" width="1.61" height="0.63" fill="#8f5226"/>
<rect x="68.73" y="494.53" width="1.35" height="0.66" fill="#8f5226"/>
<rect x="69.79" y="494.42" width="1.58" height="0.77" fill="#8f5226"/>
<rect x="86.49" y="494.45" width="1.7" height="0.74" fill="#8f5226"/>
<rect x="99.32" y="494.47" width="1" height="0.72" fill="#8f5226"/>
<rect x="100.5" y="494.42" width="0.88" height="0.77" fill="#8f5226"/>
<rect x="101.45" y="494.55" width="0.84" height="0.64" fill="#8f5226"/>
<rect x="103.69" y="494.42" width="1.24" height="0.77" fill="#8f5226"/>
<rect x="120.69" y="494.29" width="1.27" height="0.9" fill="#8f5226"/>
<rect x="123.17" y="494.47" width="0.81" height="0.72" fill="#8f5226"/>
<rect x="135.61" y="494.37" width="0.99" height="0.82" fill="#8f5226"/>
<rect x="147.91" y="494.01" width="0.9" height="1.18" fill="#8f5226"/>
<rect x="151.4" y="494.57" width="0.89" height="0.62" fill="#8f5226"/>
<rect x="153.24" y="494.59" width="1.46" height="0.6" fill="#8f5226"/>
<rect x="157.02" y="494.39" width="1.68" height="0.8" fill="#8f5226"/>
<rect x="162.41" y="494.07" width="1.1" height="1.12" fill="#8f5226"/>
<rect x="168.8" y="494.12" width="1.22" height="1.07" fill="#8f5226"/>
<rect x="175.42" y="494.4" width="1.14" height="0.79" fill="#8f5226"/>
<rect x="189.35" y="494.58" width="0.64" height="0.61" fill="#8f5226"/>
<rect x="196.92" y="493.94" width="1.2" height="1.25" fill="#8f5226"/>
<rect x="200.82" y="494.34" width="0.84" height="0.85" fill="#8f5226"/>
<rect x="203.21" y="494.59" width="1.56" height="0.6" fill="#8f5226"/>
<rect x="207.79" y="494.47" width="0.94" height="0.72" fill="#8f5226"/>
<rect x="210.36" y="494.33" width="1.62" height="0.86" fill="#8f5226"/>
<rect x="212.23" y="494.57" width="0.88" height="0.62" fill="#8f5226"/>
<rect x="214.74" y="494.2" width="1.31" height="0.99" fill="#8f5226"/>
<rect x="215.62" y="493.9" width="1.32" height="1.29" fill="#8f5226"/>
<rect x="217.72" y="493.91" width="0.82" height="1.28" fill="#8f5226"/>
<rect x="221.05" y="494.1" width="0.87" height="1.09" fill="#8f5226"/>
<rect x="223.99" y="494.06" width="1.17" height="1.13" fill="#8f5226"/>
<rect x="232.21" y="494.45" width="0.95" height="0.74" fill="#8f5226"/>
<rect x="234.67" y="494.16" width="0.78" height="1.03" fill="#8f5226"/>
<rect x="241.32" y="494.16" width="1.43" height="1.03" fill="#8f5226"/>
<rect x="245.34" y="494.08" width="0.97" height="1.11" fill="#8f5226"/>
<rect x="246.26" y="494.4" width="0.82" height="0.79" fill="#8f5226"/>
<rect x="249.31" y="493.91" width="1.26" height="1.28" fill="#8f5226"/>
<rect x="251.63" y="494.01" width="1.38" height="1.18" fill="#8f5226"/>
<rect x="253.15" y="494.33" width="0.97" height="0.86" fill="#8f5226"/>
<rect x="254.02" y="493.92" width="1.11" height="1.27" fill="#8f5226"/>
<rect x="255.03" y="494.39" width="1.75" height="0.8" fill="#8f5226"/>
<rect x="256.85" y="493.95" width="0.63" height="1.24" fill="#8f5226"/>
<rect x="259.66" y="494.35" width="1.04" height="0.84" fill="#8f5226"/>
<rect x="261.43" y="493.98" width="1.43" height="1.21" fill="#8f5226"/>
<rect x="262.52" y="494.41" width="1.34" height="0.78" fill="#8f5226"/>
<rect x="267.32" y="493.9" width="1.64" height="1.29" fill="#8f5226"/>
<rect x="268.14" y="494.05" width="1.32" height="1.14" fill="#8f5226"/>
<rect x="272.29" y="493.91" width="1.28" height="1.28" fill="#8f5226"/>
<path d="M57.35 495.19 L57.35 494.38 L57.6 494.24 L57.85 494.07 L58.1 493.9 L58.35 493.75 L58.6 493.62 L58.85 493.55 L59.1 493.55 L59.35 493.6 L59.6 493.72 L59.85 493.87 L60.1 494.04 L60.35 494.21 L60.6 494.36 L60.6 495.19 Z" fill="#8f5226"/>
<path d="M90.35 495.19 L90.35 494.38 L90.6 494.24 L90.85 494.07 L91.1 493.9 L91.35 493.75 L91.6 493.62 L91.85 493.55 L92.1 493.55 L92.35 493.6 L92.6 493.72 L92.85 493.87 L93.1 494.04 L93.35 494.21 L93.6 494.36 L93.6 495.19 Z" fill="#8f5226"/>
<path d="M108.35 495.19 L108.35 494.21 L108.6 493.85 L108.85 493.43 L109.1 493.04 L109.35 492.78 L109.6 492.76 L109.85 492.97 L110.1 493.34 L110.35 493.77 L110.6 494.14 L110.85 494.42 L110.85 495.19 Z" fill="#8f5226"/>
<path d="M122.6 495.19 L122.6 494.28 L122.85 494.02 L123.1 493.71 L123.35 493.4 L123.6 493.13 L123.85 492.97 L124.1 492.95 L124.35 493.09 L124.6 493.34 L124.85 493.65 L125.1 493.96 L125.35 494.23 L125.6 494.44 L125.6 495.19 Z" fill="#8f5226"/>
<path d="M137.6 495.19 L137.6 494.38 L137.85 494.27 L138.1 494.13 L138.35 493.98 L138.6 493.82 L138.85 493.66 L139.1 493.51 L139.35 493.39 L139.6 493.3 L139.85 493.25 L140.1 493.24 L140.35 493.29 L140.6 493.37 L140.85 493.49 L141.1 493.63 L141.35 493.79 L141.6 493.95 L141.85 494.1 L142.1 494.24 L142.35 494.36 L142.35 495.19 Z" fill="#8f5226"/>
<path d="M153.85 495.19 L153.85 494.34 L154.1 494.21 L154.35 494.06 L154.6 493.9 L154.85 493.73 L155.1 493.56 L155.35 493.4 L155.6 493.28 L155.85 493.19 L156.1 493.14 L156.35 493.15 L156.6 493.2 L156.85 493.3 L157.1 493.43 L157.35 493.59 L157.6 493.76 L157.85 493.93 L158.1 494.09 L158.35 494.24 L158.6 494.36 L158.6 495.19 Z" fill="#8f5226"/>
<path d="M172.85 495.19 L172.85 494.34 L173.1 494.17 L173.35 493.99 L173.6 493.85 L173.85 493.76 L174.1 493.75 L174.35 493.82 L174.6 493.96 L174.85 494.13 L175.1 494.31 L175.1 495.19 Z" fill="#8f5226"/>
<path d="M178.85 495.19 L178.85 494.38 L179.1 494.24 L179.35 494.07 L179.6 493.9 L179.85 493.75 L180.1 493.62 L180.35 493.55 L180.6 493.55 L180.85 493.6 L181.1 493.72 L181.35 493.87 L181.6 494.04 L181.85 494.21 L182.1 494.36 L182.1 495.19 Z" fill="#8f5226"/>
<path d="M208.35 495.19 L208.35 494.38 L208.6 494.24 L208.85 494.07 L209.1 493.9 L209.35 493.75 L209.6 493.62 L209.85 493.55 L210.1 493.55 L210.35 493.6 L210.6 493.72 L210.85 493.87 L211.1 494.04 L211.35 494.21 L211.6 494.36 L211.6 495.19 Z" fill="#8f5226"/>
<path d="M230.35 495.19 L230.35 494.38 L230.6 494.24 L230.85 494.07 L231.1 493.9 L231.35 493.75 L231.6 493.62 L231.85 493.55 L232.1 493.55 L232.35 493.6 L232.6 493.72 L232.85 493.87 L233.1 494.04 L233.35 494.21 L233.6 494.36 L233.6 495.19 Z" fill="#8f5226"/>
<path d="M260.6 495.19 L260.6 494.32 L260.85 494.18 L261.1 494.04 L261.35 493.91 L261.6 493.81 L261.85 493.75 L262.1 493.74 L262.35 493.79 L262.6 493.89 L262.85 494.01 L263.1 494.16 L263.35 494.3 L263.6 494.42 L263.6 495.19 Z" fill="#8f5226"/>
<line x1="32.6" y1="510.1" x2="274" y2="510.1" stroke="#e2c8b6" stroke-width="0.7"/>
<rect x="38.57" y="509.32" width="1.02" height="1.13" fill="#8a4a1e"/>
<rect x="41.03" y="509.58" width="1.12" height="0.87" fill="#8a4a1e"/>
<rect x="44.09" y="509.42" width="1.79" height="1.03" fill="#8a4a1e"/>
<rect x="49.08" y="509.15" width="1.72" height="1.3" fill="#8a4a1e"/>
<rect x="50.83" y="509.31" width="1.59" height="1.14" fill="#8a4a1e"/>
<rect x="70.59" y="509.77" width="0.75" height="0.68" fill="#8a4a1e"/>
<rect x="75.94" y="509.81" width="0.83" height="0.64" fill="#8a4a1e"/>
<rect x="84.11" y="509.6" width="1.36" height="0.85" fill="#8a4a1e"/>
<rect x="86.09" y="509.2" width="0.89" height="1.25" fill="#8a4a1e"/>
<rect x="88.65" y="509.21" width="1.56" height="1.24" fill="#8a4a1e"/>
<rect x="90.19" y="509.61" width="1.64" height="0.84" fill="#8a4a1e"/>
<rect x="91.88" y="509.69" width="1.66" height="0.76" fill="#8a4a1e"/>
<rect x="102.65" y="509.37" width="0.8" height="1.08" fill="#8a4a1e"/>
<rect x="115.82" y="509.65" width="0.7" height="0.8" fill="#8a4a1e"/>
<rect x="119.24" y="509.46" width="1.42" height="0.99" fill="#8a4a1e"/>
<rect x="129.09" y="509.64" width="1.58" height="0.81" fill="#8a4a1e"/>
<rect x="130.74" y="509.8" width="1.28" height="0.65" fill="#8a4a1e"/>
<rect x="132.35" y="509.37" width="1.65" height="1.08" fill="#8a4a1e"/>
<rect x="133.2" y="509.33" width="1.14" height="1.12" fill="#8a4a1e"/>
<rect x="146.31" y="509.36" width="1.48" height="1.09" fill="#8a4a1e"/>
<rect x="159.51" y="509.6" width="0.85" height="0.85" fill="#8a4a1e"/>
<rect x="170.26" y="509.29" width="0.68" height="1.16" fill="#8a4a1e"/>
<rect x="182.14" y="509.54" width="1.77" height="0.91" fill="#8a4a1e"/>
<rect x="191.51" y="509.22" width="0.75" height="1.23" fill="#8a4a1e"/>
<rect x="192.6" y="509.81" width="1.16" height="0.64" fill="#8a4a1e"/>
<rect x="198.05" y="509.48" width="0.99" height="0.97" fill="#8a4a1e"/>
<rect x="210.38" y="509.53" width="1.18" height="0.92" fill="#8a4a1e"/>
<rect x="212.48" y="509.61" width="1.56" height="0.84" fill="#8a4a1e"/>
<rect x="213.99" y="509.24" width="1.64" height="1.21" fill="#8a4a1e"/>
<rect x="216.62" y="509.42" width="1.6" height="1.03" fill="#8a4a1e"/>
<rect x="222.76" y="509.49" width="0.94" height="0.96" fill="#8a4a1e"/>
<rect x="224.49" y="509.17" width="1.34" height="1.28" fill="#8a4a1e"/>
<rect x="227.37" y="509.53" width="0.8" height="0.92" fill="#8a4a1e"/>
<rect x="238.53" y="509.65" width="0.76" height="0.8" fill="#8a4a1e"/>
<rect x="240.8" y="509.2" width="1.75" height="1.25" fill="#8a4a1e"/>
<rect x="246.19" y="509.41" width="1.25" height="1.04" fill="#8a4a1e"/>
<rect x="249.56" y="509.79" width="1.42" height="0.66" fill="#8a4a1e"/>
<rect x="263.66" y="509.33" width="1.34" height="1.12" fill="#8a4a1e"/>
<rect x="264.75" y="509.64" width="1.8" height="0.81" fill="#8a4a1e"/>
<rect x="268.77" y="509.22" width="1.07" height="1.23" fill="#8a4a1e"/>
<path d="M33.85 510.45 L33.85 509.62 L34.1 509.51 L34.35 509.39 L34.6 509.26 L34.85 509.14 L35.1 509.02 L35.35 508.92 L35.6 508.85 L35.85 508.81 L36.1 508.8 L36.35 508.84 L36.6 508.9 L36.85 509 L37.1 509.11 L37.35 509.24 L37.6 509.37 L37.85 509.49 L38.1 509.6 L38.35 509.7 L38.35 510.45 Z" fill="#8a4a1e"/>
<path d="M58.85 510.45 L58.85 509.65 L59.1 509.53 L59.35 509.37 L59.6 509.19 L59.85 508.99 L60.1 508.77 L60.35 508.56 L60.6 508.37 L60.85 508.2 L61.1 508.08 L61.35 507.83 L61.6 504.8 L61.85 502.95 L62.1 502.52 L62.35 502.5 L62.6 502.59 L62.85 503.48 L63.1 505.98 L63.35 508.82 L63.6 509.34 L63.85 509.5 L64.1 509.63 L64.1 510.45 Z" fill="#8a4a1e"/>
<path d="M123.85 510.45 L123.85 509.62 L124.1 509.51 L124.35 509.39 L124.6 509.26 L124.85 509.14 L125.1 509.02 L125.35 508.92 L125.6 508.85 L125.85 508.81 L126.1 508.8 L126.35 508.84 L126.6 508.9 L126.85 509 L127.1 509.11 L127.35 509.24 L127.6 509.37 L127.85 509.49 L128.1 509.6 L128.35 509.7 L128.35 510.45 Z" fill="#8a4a1e"/>
<path d="M134.1 510.45 L134.1 509.69 L134.35 509.59 L134.6 509.48 L134.85 509.35 L135.1 509.2 L135.35 509.05 L135.6 508.88 L135.85 508.71 L136.1 508.54 L136.35 508.38 L136.6 508.24 L136.85 508.13 L137.1 508.05 L137.35 508.01 L137.6 508 L137.85 507.15 L138.1 505.78 L138.35 505.27 L138.6 505.2 L138.85 505.2 L139.1 505.32 L139.35 505.98 L139.6 507.51 L139.85 509.17 L140.1 509.32 L140.35 509.45 L140.6 509.57 L140.85 509.67 L140.85 510.45 Z" fill="#8a4a1e"/>
<path d="M152.1 510.45 L152.1 509.65 L152.35 509.55 L152.6 509.43 L152.85 509.28 L153.1 509.12 L153.35 508.95 L153.6 508.77 L153.85 508.58 L154.1 508.39 L154.35 508.22 L154.6 508.07 L154.85 507.94 L155.1 507.86 L155.35 505.97 L155.6 504.03 L155.85 503.3 L156.1 503.2 L156.35 503.2 L156.6 503.37 L156.85 504.31 L157.1 506.47 L157.35 508.73 L157.6 508.91 L157.85 509.09 L158.1 509.25 L158.35 509.4 L158.6 509.53 L158.85 509.63 L158.85 510.45 Z" fill="#8a4a1e"/>
<path d="M178.85 510.45 L178.85 509.34 L179.1 508.03 L179.35 506.82 L179.6 506.3 L179.85 506.2 L180.1 506.2 L180.35 506.26 L180.6 506.66 L180.85 507.75 L181.1 509.12 L181.1 510.45 Z" fill="#8a4a1e"/>
<path d="M217.85 510.45 L217.85 509.69 L218.1 509.59 L218.35 509.49 L218.6 509.39 L218.85 509.28 L219.1 509.18 L219.35 509.1 L219.6 509.04 L219.85 509.01 L220.1 509 L220.35 509.03 L220.6 509.09 L220.85 509.17 L221.1 509.26 L221.35 509.37 L221.6 509.47 L221.85 509.57 L222.1 509.67 L222.1 510.45 Z" fill="#8a4a1e"/>
<path d="M255.6 510.45 L255.6 509.67 L255.85 509.56 L256.1 509.43 L256.35 509.29 L256.6 509.14 L256.85 508.99 L257.1 508.86 L257.35 508.74 L257.6 508.65 L257.85 508.61 L258.1 508.6 L258.35 508.64 L258.6 508.72 L258.85 508.83 L259.1 508.97 L259.35 509.11 L259.6 509.26 L259.85 509.4 L260.1 509.54 L260.35 509.65 L260.35 510.45 Z" fill="#8a4a1e"/>
<line x1="32.6" y1="525.36" x2="274" y2="525.36" stroke="#d4d6e4" stroke-width="0.7"/>
<rect x="35.51" y="524.55" width="1.57" height="1.16" fill="#1c2c86"/>
<rect x="50.67" y="525.04" width="1.49" height="0.67" fill="#1c2c86"/>
<rect x="81.43" y="524.73" width="0.71" height="0.98" fill="#1c2c86"/>
<rect x="94.31" y="524.89" width="1.48" height="0.82" fill="#1c2c86"/>
<rect x="101.23" y="525.08" width="0.93" height="0.63" fill="#1c2c86"/>
<rect x="106.89" y="524.64" width="0.79" height="1.07" fill="#1c2c86"/>
<rect x="117.32" y="524.71" width="0.83" height="1" fill="#1c2c86"/>
<rect x="121.29" y="524.97" width="0.98" height="0.74" fill="#1c2c86"/>
<rect x="134.79" y="524.92" width="1.64" height="0.79" fill="#1c2c86"/>
<rect x="154.01" y="524.97" width="1.03" height="0.74" fill="#1c2c86"/>
<rect x="156" y="524.51" width="0.87" height="1.2" fill="#1c2c86"/>
<rect x="159.75" y="524.61" width="1.01" height="1.1" fill="#1c2c86"/>
<rect x="161.95" y="524.43" width="1.79" height="1.28" fill="#1c2c86"/>
<rect x="181.23" y="524.92" width="1.47" height="0.79" fill="#1c2c86"/>
<rect x="183.62" y="525.1" width="1.19" height="0.61" fill="#1c2c86"/>
<rect x="185.93" y="524.63" width="1.52" height="1.08" fill="#1c2c86"/>
<rect x="211.28" y="524.98" width="1.02" height="0.73" fill="#1c2c86"/>
<rect x="214.43" y="524.67" width="0.76" height="1.04" fill="#1c2c86"/>
<rect x="221" y="524.7" width="1.21" height="1.01" fill="#1c2c86"/>
<rect x="225.1" y="524.95" width="0.87" height="0.76" fill="#1c2c86"/>
<rect x="243.72" y="524.9" width="1.13" height="0.81" fill="#1c2c86"/>
<rect x="273.41" y="524.69" width="0.59" height="1.02" fill="#1c2c86"/>
<path d="M108.85 525.71 L108.85 524.86 L109.1 524.69 L109.35 524.51 L109.6 524.37 L109.85 524.28 L110.1 524.27 L110.35 524.34 L110.6 524.48 L110.85 524.65 L111.1 524.83 L111.1 525.71 Z" fill="#1c2c86"/>
<path d="M153.1 525.71 L153.1 524.88 L153.35 524.77 L153.6 524.64 L153.85 524.49 L154.1 524.33 L154.35 524.16 L154.6 523.98 L154.85 523.8 L155.1 522.24 L155.35 519.52 L155.6 517.75 L155.85 517.14 L156.1 517.06 L156.35 517.06 L156.6 517.2 L156.85 518 L157.1 520.02 L157.35 522.78 L157.6 523.84 L157.85 524.01 L158.1 524.19 L158.35 524.36 L158.6 524.52 L158.85 524.67 L159.1 524.8 L159.35 524.9 L159.35 525.71 Z" fill="#1c2c86"/>
<path d="M255.1 525.71 L255.1 524.82 L255.35 524.6 L255.6 524.41 L255.85 524.28 L256.1 524.27 L256.35 524.38 L256.6 524.56 L256.85 524.77 L256.85 525.71 Z" fill="#1c2c86"/>
<line x1="32.6" y1="540.62" x2="274" y2="540.62" stroke="#d4d6e4" stroke-width="0.7"/>
<rect x="48.8" y="540.32" width="1.05" height="0.65" fill="#1c2c86"/>
<rect x="111.46" y="540.32" width="0.76" height="0.65" fill="#1c2c86"/>
<rect x="113.03" y="540.16" width="1.08" height="0.81" fill="#1c2c86"/>
<rect x="145.01" y="539.95" width="1.03" height="1.02" fill="#1c2c86"/>
<rect x="160.77" y="540.22" width="1.3" height="0.75" fill="#1c2c86"/>
<rect x="172.14" y="540.06" width="1.67" height="0.91" fill="#1c2c86"/>
<rect x="174.47" y="540.04" width="1.5" height="0.93" fill="#1c2c86"/>
<rect x="178.15" y="539.75" width="1.1" height="1.22" fill="#1c2c86"/>
<rect x="184.64" y="539.68" width="0.74" height="1.29" fill="#1c2c86"/>
<rect x="185.65" y="540.29" width="1.02" height="0.68" fill="#1c2c86"/>
<rect x="206.83" y="539.73" width="0.82" height="1.24" fill="#1c2c86"/>
<rect x="217.8" y="539.7" width="1.59" height="1.27" fill="#1c2c86"/>
<rect x="226.88" y="539.81" width="1.39" height="1.16" fill="#1c2c86"/>
<rect x="233.48" y="540.24" width="1.48" height="0.73" fill="#1c2c86"/>
<rect x="246.91" y="539.87" width="1.77" height="1.1" fill="#1c2c86"/>
<rect x="263.86" y="540.24" width="0.66" height="0.73" fill="#1c2c86"/>
<path d="M54.85 540.97 L54.85 540.15 L55.1 539.9 L55.35 539.6 L55.6 539.33 L55.85 539.15 L56.1 539.13 L56.35 539.28 L56.6 539.54 L56.85 539.84 L57.1 540.1 L57.1 540.97 Z" fill="#1c2c86"/>
<path d="M152.6 540.97 L152.6 540.15 L152.85 540.04 L153.1 539.92 L153.35 539.77 L153.6 539.6 L153.85 539.42 L154.1 539.22 L154.35 539.01 L154.6 538.81 L154.85 538.14 L155.1 534.7 L155.35 531.35 L155.6 529.43 L155.85 528.81 L156.1 528.72 L156.35 528.72 L156.6 528.86 L156.85 529.69 L157.1 531.92 L157.35 535.44 L157.6 538.65 L157.85 538.85 L158.1 539.05 L158.35 539.26 L158.6 539.45 L158.85 539.64 L159.1 539.8 L159.35 539.94 L159.6 540.07 L159.85 540.17 L159.85 540.97 Z" fill="#1c2c86"/>
<path d="M237.85 540.97 L237.85 540.2 L238.1 539.99 L238.35 539.73 L238.6 539.5 L238.85 539.35 L239.1 539.33 L239.35 539.46 L239.6 539.68 L239.85 539.94 L240.1 540.16 L240.1 540.97 Z" fill="#1c2c86"/>
<line x1="32.6" y1="555.88" x2="274" y2="555.88" stroke="#ecc4c4" stroke-width="0.7"/>
<rect x="33.63" y="555.49" width="0.93" height="0.74" fill="#d01828"/>
<rect x="36.02" y="555.03" width="0.84" height="1.2" fill="#d01828"/>
<rect x="36.97" y="554.99" width="1.71" height="1.24" fill="#d01828"/>
<rect x="38.11" y="555.36" width="1.79" height="0.87" fill="#d01828"/>
<rect x="41.02" y="555.06" width="1.47" height="1.17" fill="#d01828"/>
<rect x="42.99" y="554.94" width="1.47" height="1.29" fill="#d01828"/>
<rect x="44.59" y="555.29" width="1.51" height="0.94" fill="#d01828"/>
<rect x="51.34" y="554.97" width="1.09" height="1.26" fill="#d01828"/>
<rect x="54.95" y="555.5" width="1.54" height="0.73" fill="#d01828"/>
<rect x="65.95" y="554.98" width="0.69" height="1.25" fill="#d01828"/>
<rect x="67" y="555.32" width="1.49" height="0.91" fill="#d01828"/>
<rect x="72.6" y="555.5" width="1.07" height="0.73" fill="#d01828"/>
<rect x="77.58" y="555.41" width="1.7" height="0.82" fill="#d01828"/>
<rect x="80.44" y="555.48" width="0.68" height="0.75" fill="#d01828"/>
<rect x="86.4" y="555.37" width="0.68" height="0.86" fill="#d01828"/>
<rect x="90.65" y="555.56" width="0.99" height="0.67" fill="#d01828"/>
<rect x="93.23" y="555.19" width="1.74" height="1.04" fill="#d01828"/>
<rect x="97.61" y="555.19" width="1.17" height="1.04" fill="#d01828"/>
<rect x="100.45" y="555.35" width="0.69" height="0.88" fill="#d01828"/>
<rect x="105.48" y="555.19" width="1.2" height="1.04" fill="#d01828"/>
<rect x="107.27" y="555.14" width="0.69" height="1.09" fill="#d01828"/>
<rect x="111.96" y="555.17" width="0.79" height="1.06" fill="#d01828"/>
<rect x="115.67" y="555.08" width="0.97" height="1.15" fill="#d01828"/>
<rect x="117.81" y="555.14" width="0.64" height="1.09" fill="#d01828"/>
<rect x="121.25" y="554.94" width="1.57" height="1.29" fill="#d01828"/>
<rect x="123.65" y="554.97" width="0.96" height="1.26" fill="#d01828"/>
<rect x="127.98" y="555.21" width="1.53" height="1.02" fill="#d01828"/>
<rect x="129.25" y="554.99" width="1.79" height="1.24" fill="#d01828"/>
<rect x="130.3" y="555.32" width="1.65" height="0.91" fill="#d01828"/>
<rect x="136.3" y="554.96" width="1.72" height="1.27" fill="#d01828"/>
<rect x="139.52" y="554.98" width="1.48" height="1.25" fill="#d01828"/>
<rect x="145.13" y="555.33" width="1.51" height="0.9" fill="#d01828"/>
<rect x="147.47" y="555.31" width="1.26" height="0.92" fill="#d01828"/>
<rect x="156.6" y="555.18" width="1.73" height="1.05" fill="#d01828"/>
<rect x="165.7" y="555.12" width="1.49" height="1.11" fill="#d01828"/>
<rect x="166.91" y="555.55" width="0.88" height="0.68" fill="#d01828"/>
<rect x="171.28" y="555.45" width="1.28" height="0.78" fill="#d01828"/>
<rect x="173.53" y="555.5" width="0.96" height="0.73" fill="#d01828"/>
<rect x="175.65" y="554.98" width="1.2" height="1.25" fill="#d01828"/>
<rect x="178.32" y="555.44" width="1.77" height="0.79" fill="#d01828"/>
<rect x="179.66" y="555.15" width="0.76" height="1.08" fill="#d01828"/>
<rect x="186.36" y="555.43" width="1.25" height="0.8" fill="#d01828"/>
<rect x="187.73" y="555.52" width="1.25" height="0.71" fill="#d01828"/>
<rect x="189.58" y="554.94" width="1.17" height="1.29" fill="#d01828"/>
<rect x="198.98" y="555.12" width="0.79" height="1.11" fill="#d01828"/>
<rect x="200.49" y="555.41" width="1.09" height="0.82" fill="#d01828"/>
<rect x="201.74" y="555.16" width="0.81" height="1.07" fill="#d01828"/>
<rect x="204.44" y="555.04" width="1.33" height="1.19" fill="#d01828"/>
<rect x="208.12" y="555.42" width="0.66" height="0.81" fill="#d01828"/>
<rect x="212.71" y="555.03" width="0.68" height="1.2" fill="#d01828"/>
<rect x="215.96" y="555.09" width="1.68" height="1.14" fill="#d01828"/>
<rect x="220.12" y="555.07" width="1.14" height="1.16" fill="#d01828"/>
<rect x="222.25" y="555.41" width="0.83" height="0.82" fill="#d01828"/>
<rect x="224.23" y="555" width="0.77" height="1.23" fill="#d01828"/>
<rect x="226.58" y="555.01" width="0.85" height="1.22" fill="#d01828"/>
<rect x="234.5" y="555.12" width="1.59" height="1.11" fill="#d01828"/>
<rect x="238.46" y="555.1" width="0.8" height="1.13" fill="#d01828"/>
<rect x="239.85" y="554.94" width="1.28" height="1.29" fill="#d01828"/>
<rect x="244.86" y="555.47" width="1.42" height="0.76" fill="#d01828"/>
<rect x="246.07" y="555.34" width="1.7" height="0.89" fill="#d01828"/>
<rect x="257.36" y="555.38" width="0.94" height="0.85" fill="#d01828"/>
<rect x="263.93" y="555.5" width="0.85" height="0.73" fill="#d01828"/>
<rect x="267.95" y="555.16" width="1.58" height="1.07" fill="#d01828"/>
<rect x="272.58" y="554.93" width="1.42" height="1.3" fill="#d01828"/>
<path d="M32.85 556.23 L32.85 555.35 L33.1 555.07 L33.35 554.73 L33.6 554.42 L33.85 554.22 L34.1 554.2 L34.35 554.36 L34.6 554.66 L34.85 555 L35.1 555.3 L35.1 556.23 Z" fill="#d01828"/>
<path d="M73.35 556.23 L73.35 555.36 L73.6 555.19 L73.85 555 L74.1 554.8 L74.35 554.62 L74.6 554.48 L74.85 554.39 L75.1 554.39 L75.35 554.45 L75.6 554.59 L75.85 554.76 L76.1 554.96 L76.35 555.16 L76.6 555.33 L76.85 555.47 L76.85 556.23 Z" fill="#d01828"/>
<path d="M96.35 556.23 L96.35 555.42 L96.6 555.28 L96.85 555.11 L97.1 554.94 L97.35 554.79 L97.6 554.66 L97.85 554.59 L98.1 554.59 L98.35 554.64 L98.6 554.76 L98.85 554.91 L99.1 555.08 L99.35 555.25 L99.6 555.4 L99.6 556.23 Z" fill="#d01828"/>
<path d="M153.85 556.23 L153.85 555.25 L154.1 554.36 L154.35 553.48 L154.6 552.6 L154.85 551.71 L155.1 550.83 L155.35 549.94 L155.6 549.06 L155.85 548.17 L156.1 547.29 L156.35 546.76 L156.6 547.64 L156.85 548.53 L157.1 549.41 L157.35 550.3 L157.6 551.18 L157.85 552.06 L158.1 552.95 L158.35 553.83 L158.6 554.72 L158.6 556.23 Z" fill="#d01828"/>
<path d="M205.35 556.23 L205.35 555.42 L205.6 555.28 L205.85 555.11 L206.1 554.94 L206.35 554.79 L206.6 554.66 L206.85 554.59 L207.1 554.59 L207.35 554.64 L207.6 554.76 L207.85 554.91 L208.1 555.08 L208.35 555.25 L208.6 555.4 L208.6 556.23 Z" fill="#d01828"/>
<path d="M260.35 556.23 L260.35 555.42 L260.6 555.28 L260.85 555.11 L261.1 554.94 L261.35 554.79 L261.6 554.66 L261.85 554.59 L262.1 554.59 L262.35 554.64 L262.6 554.76 L262.85 554.91 L263.1 555.08 L263.35 555.25 L263.6 555.4 L263.6 556.23 Z" fill="#d01828"/>
<text x="347.4" y="405.8" font-size="10.8" fill="#000" font-weight="bold" stroke="#000" stroke-width="0.35">H</text>
<text x="378" y="420.4" font-size="9.66" fill="#1e1e1e" textLength="129.5" lengthAdjust="spacingAndGlyphs" stroke="#1e1e1e" stroke-width="0.12">TF distribution over enhanced</text>
<text x="418" y="432" font-size="9.66" fill="#1e1e1e" textLength="48.5" lengthAdjust="spacingAndGlyphs" stroke="#1e1e1e" stroke-width="0.12">ATAC sites</text>
<line x1="389.9" y1="437.2" x2="389.9" y2="550.9" stroke="#111" stroke-width="1.4"/>
<line x1="389.2" y1="550.2" x2="494.2" y2="550.2" stroke="#111" stroke-width="1.5"/>
<line x1="387.3" y1="550.2" x2="389.9" y2="550.2" stroke="#111" stroke-width="1.1"/>
<text x="384.4" y="553.1" font-size="8" fill="#1e1e1e" text-anchor="end" stroke="#1e1e1e" stroke-width="0.12">0</text>
<line x1="387.3" y1="528.08" x2="389.9" y2="528.08" stroke="#111" stroke-width="1.1"/>
<text x="384.4" y="530.98" font-size="8" fill="#1e1e1e" text-anchor="end" stroke="#1e1e1e" stroke-width="0.12">20</text>
<line x1="387.3" y1="505.96" x2="389.9" y2="505.96" stroke="#111" stroke-width="1.1"/>
<text x="384.4" y="508.86" font-size="8" fill="#1e1e1e" text-anchor="end" stroke="#1e1e1e" stroke-width="0.12">40</text>
<line x1="387.3" y1="483.84" x2="389.9" y2="483.84" stroke="#111" stroke-width="1.1"/>
<text x="384.4" y="486.74" font-size="8" fill="#1e1e1e" text-anchor="end" stroke="#1e1e1e" stroke-width="0.12">60</text>
<line x1="387.3" y1="461.72" x2="389.9" y2="461.72" stroke="#111" stroke-width="1.1"/>
<text x="384.4" y="464.62" font-size="8" fill="#1e1e1e" text-anchor="end" stroke="#1e1e1e" stroke-width="0.12">80</text>
<line x1="387.3" y1="439.6" x2="389.9" y2="439.6" stroke="#111" stroke-width="1.1"/>
<text x="384.4" y="442.5" font-size="8" fill="#1e1e1e" text-anchor="end" stroke="#1e1e1e" stroke-width="0.12">100</text>
<text x="366.6" y="526.4" font-size="8.82" fill="#1e1e1e" textLength="66.7" lengthAdjust="spacingAndGlyphs" transform="rotate(-90 366.6 526.4)" stroke="#1e1e1e" stroke-width="0.12">Percentage overlap</text>
<rect x="405.7" y="540.25" width="21.5" height="9.95" fill="#b8671f"/>
<rect x="405.7" y="506.84" width="21.5" height="33.4" fill="#2c4a8a"/>
<rect x="405.7" y="452.65" width="21.5" height="54.19" fill="#b0102e"/>
<rect x="405.7" y="439.6" width="21.5" height="13.05" fill="#5aa83c"/>
<rect x="458.2" y="542.46" width="20.8" height="7.74" fill="#b8671f"/>
<rect x="458.2" y="509.06" width="20.8" height="33.4" fill="#2c4a8a"/>
<rect x="458.2" y="449.33" width="20.8" height="59.72" fill="#b0102e"/>
<rect x="458.2" y="439.6" width="20.8" height="9.73" fill="#5aa83c"/>
<text x="402.9" y="560.6" font-size="8.61" fill="#1e1e1e" textLength="27.1" lengthAdjust="spacingAndGlyphs" stroke="#1e1e1e" stroke-width="0.12">Control</text>
<text x="457.4" y="560.6" font-size="8.61" fill="#1e1e1e" textLength="22.1" lengthAdjust="spacingAndGlyphs" stroke="#1e1e1e" stroke-width="0.12">LSD1i</text>
<rect x="390.3" y="566.8" width="5" height="5" fill="#64a050"/>
<text x="398.3" y="572" font-size="8.09" fill="#1e1e1e" textLength="25" lengthAdjust="spacingAndGlyphs" stroke="#1e1e1e" stroke-width="0.12">Neither</text>
<rect x="390.3" y="577.7" width="5" height="5" fill="#ac1838"/>
<text x="398.3" y="582.9" font-size="8.09" fill="#1e1e1e" textLength="75.9" lengthAdjust="spacingAndGlyphs" stroke="#1e1e1e" stroke-width="0.12">PU.1/CEBPa co-bound</text>
<rect x="390.3" y="588.8" width="5" height="5" fill="#2c4478"/>
<text x="398.3" y="594" font-size="8.09" fill="#1e1e1e" textLength="32.1" lengthAdjust="spacingAndGlyphs" stroke="#1e1e1e" stroke-width="0.12">PU.1 only</text>
<rect x="390.3" y="600.2" width="5" height="5" fill="#a8743c"/>
<text x="398.3" y="605.4" font-size="8.09" fill="#1e1e1e" textLength="41.3" lengthAdjust="spacingAndGlyphs" stroke="#1e1e1e" stroke-width="0.12">C/EBPa only</text></svg></body></html>
